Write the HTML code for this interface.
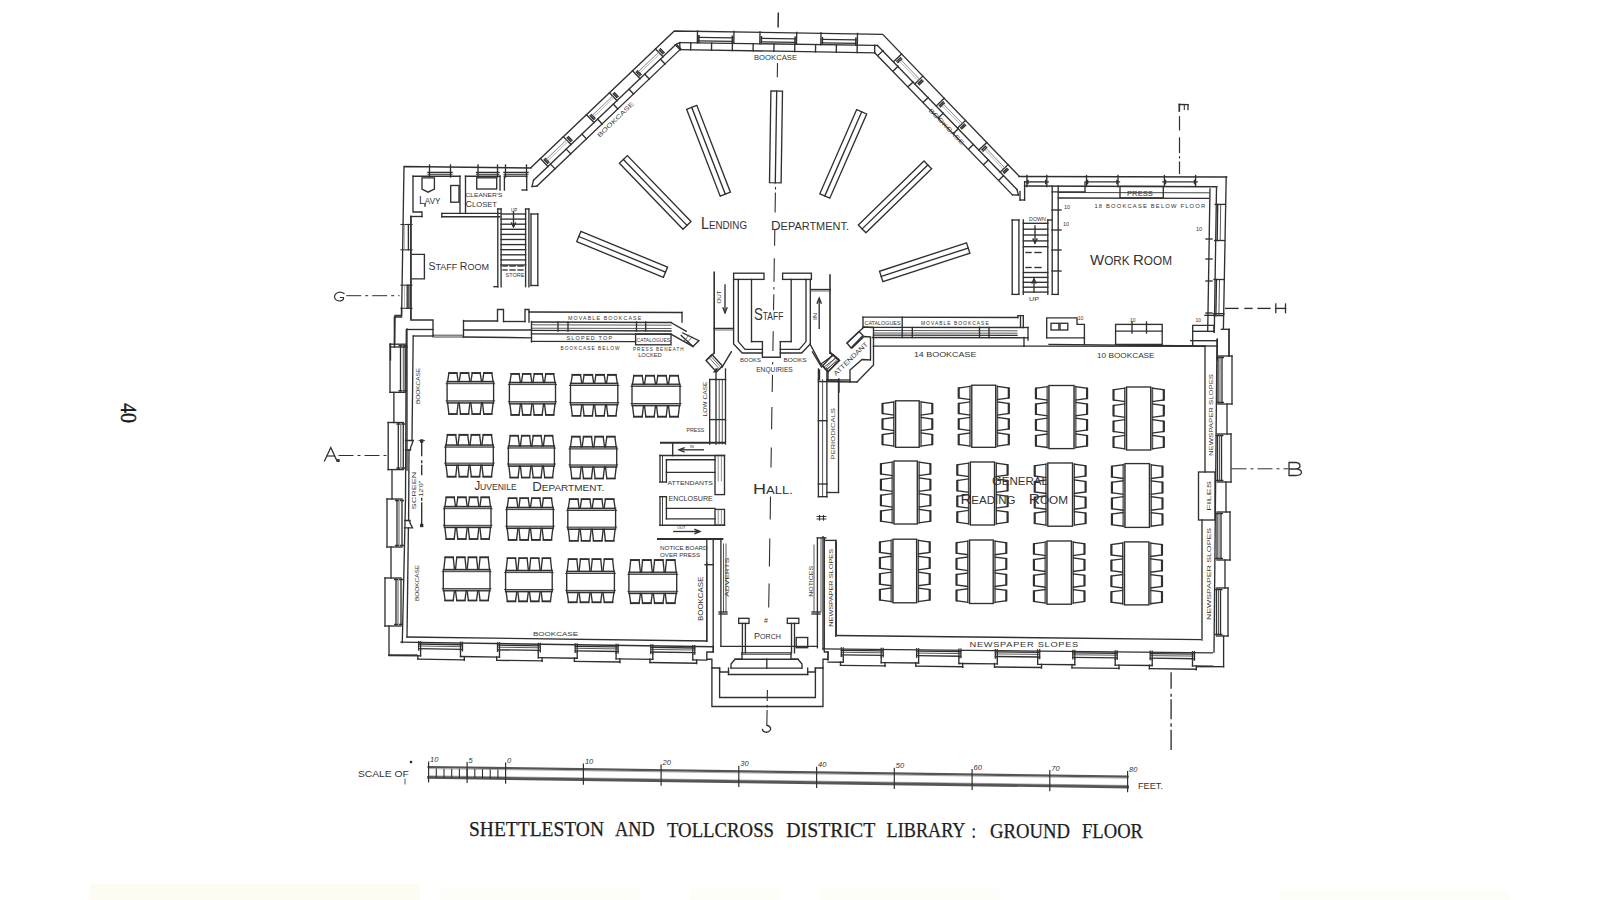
<!DOCTYPE html>
<html><head><meta charset="utf-8"><style>
html,body{margin:0;padding:0;background:#fff;}
body{width:1600px;height:900px;overflow:hidden;position:relative;}
svg{position:absolute;left:0;top:0;}
</style></head><body>
<svg width="1600" height="900" viewBox="0 0 1600 900">
<defs><linearGradient id="yb" x1="0" y1="0" x2="0" y2="1"><stop offset="0" stop-color="#fffef6" stop-opacity="0"/><stop offset="1" stop-color="#fbf7dc"/></linearGradient></defs>
<rect x="0" y="0" width="1600" height="900" fill="#ffffff"/>
<g fill="none" stroke="#303030" stroke-width="1.35" stroke-linecap="square">
<polyline points="531,167.5 674.3,31 882.7,34.3 1019,176"/>
<line x1="533.5" y1="180.2" x2="675.3" y2="44.9"/>
<line x1="537" y1="186.1" x2="680" y2="49.6"/>
<line x1="533.5" y1="180.2" x2="532" y2="186.5"/>
<line x1="537" y1="186.1" x2="532" y2="186.5"/>
<polygon points="679.7,42.6 675.3,44.9 680,49.6"/>
<line x1="679.7" y1="42.6" x2="874.7" y2="45.4"/>
<line x1="680" y1="49.6" x2="874.7" y2="52.8"/>
<line x1="874.7" y1="45.4" x2="874.7" y2="52.8"/>
<line x1="877.5" y1="45.5" x2="1017" y2="189.6"/>
<line x1="874.7" y1="52.8" x2="1012.5" y2="194.9"/>
<line x1="1017" y1="189.6" x2="1018.5" y2="195"/>
<line x1="1012.5" y1="194.9" x2="1018.5" y2="195"/>
<line x1="874.7" y1="45.4" x2="877.5" y2="45.5"/>
<line x1="540.4" y1="158.5" x2="548" y2="166.5"/>
<line x1="544.3" y1="159.7" x2="547.7" y2="163.3" stroke-width="1.5"/>
<line x1="545.4" y1="158.6" x2="548.9" y2="162.2" stroke-width="1.5"/>
<line x1="563.4" y1="136.6" x2="571" y2="144.6"/>
<line x1="567.3" y1="137.8" x2="570.7" y2="141.4" stroke-width="1.5"/>
<line x1="568.5" y1="136.7" x2="571.9" y2="140.3" stroke-width="1.5"/>
<line x1="586.5" y1="114.7" x2="594.1" y2="122.6"/>
<line x1="590.3" y1="115.8" x2="593.8" y2="119.4" stroke-width="1.5"/>
<line x1="591.5" y1="114.7" x2="594.9" y2="118.3" stroke-width="1.5"/>
<line x1="609.5" y1="92.7" x2="617.1" y2="100.7"/>
<line x1="613.4" y1="93.9" x2="616.8" y2="97.5" stroke-width="1.5"/>
<line x1="614.5" y1="92.8" x2="618" y2="96.4" stroke-width="1.5"/>
<line x1="632.5" y1="70.8" x2="640.1" y2="78.8"/>
<line x1="636.4" y1="72" x2="639.8" y2="75.6" stroke-width="1.5"/>
<line x1="637.5" y1="70.9" x2="641" y2="74.5" stroke-width="1.5"/>
<line x1="655.5" y1="48.9" x2="663.1" y2="56.8"/>
<line x1="659.4" y1="50" x2="662.9" y2="53.6" stroke-width="1.5"/>
<line x1="660.6" y1="48.9" x2="664" y2="52.5" stroke-width="1.5"/>
<line x1="546.5" y1="159.1" x2="566.6" y2="139.9" stroke-width="0.9" stroke="#777"/>
<line x1="547.9" y1="160.6" x2="568" y2="141.4" stroke-width="0.7" stroke="#999"/>
<line x1="592.5" y1="115.2" x2="612.7" y2="96.1" stroke-width="0.9" stroke="#777"/>
<line x1="593.9" y1="116.7" x2="614" y2="97.5" stroke-width="0.7" stroke="#999"/>
<line x1="638.6" y1="71.4" x2="658.7" y2="52.2" stroke-width="0.9" stroke="#777"/>
<line x1="640" y1="72.8" x2="660.1" y2="53.6" stroke-width="0.7" stroke="#999"/>
<line x1="550.5" y1="164.1" x2="555.1" y2="168.9"/>
<line x1="566.2" y1="149.1" x2="570.8" y2="153.9"/>
<line x1="582" y1="134.2" x2="586.5" y2="138.9"/>
<line x1="597.7" y1="119.2" x2="602.2" y2="124"/>
<line x1="613.4" y1="104.2" x2="617.9" y2="109"/>
<line x1="629.1" y1="89.3" x2="633.6" y2="94"/>
<line x1="644.8" y1="74.3" x2="649.4" y2="79.1"/>
<line x1="660.5" y1="59.3" x2="665.1" y2="64.1"/>
<line x1="676.2" y1="44.3" x2="680.8" y2="49.1"/>
<line x1="901.6" y1="54" x2="893.7" y2="61.6"/>
<line x1="900.5" y1="57.8" x2="896.9" y2="61.3" stroke-width="1.5"/>
<line x1="901.6" y1="59" x2="898" y2="62.5" stroke-width="1.5"/>
<line x1="922.9" y1="76.1" x2="915" y2="83.7"/>
<line x1="921.8" y1="80" x2="918.2" y2="83.4" stroke-width="1.5"/>
<line x1="922.9" y1="81.1" x2="919.3" y2="84.6" stroke-width="1.5"/>
<line x1="944.2" y1="98.2" x2="936.3" y2="105.9"/>
<line x1="943.1" y1="102.1" x2="939.5" y2="105.6" stroke-width="1.5"/>
<line x1="944.2" y1="103.2" x2="940.6" y2="106.7" stroke-width="1.5"/>
<line x1="965.5" y1="120.4" x2="957.5" y2="128"/>
<line x1="964.3" y1="124.2" x2="960.7" y2="127.7" stroke-width="1.5"/>
<line x1="965.4" y1="125.4" x2="961.8" y2="128.8" stroke-width="1.5"/>
<line x1="986.8" y1="142.5" x2="978.8" y2="150.1"/>
<line x1="985.6" y1="146.3" x2="982" y2="149.8" stroke-width="1.5"/>
<line x1="986.7" y1="147.5" x2="983.1" y2="151" stroke-width="1.5"/>
<line x1="1008" y1="164.6" x2="1000.1" y2="172.2"/>
<line x1="1006.9" y1="168.5" x2="1003.3" y2="171.9" stroke-width="1.5"/>
<line x1="1008" y1="169.6" x2="1004.4" y2="173.1" stroke-width="1.5"/>
<line x1="901.1" y1="60" x2="919.6" y2="79.3" stroke-width="0.9" stroke="#777"/>
<line x1="899.6" y1="61.4" x2="918.2" y2="80.7" stroke-width="0.7" stroke="#999"/>
<line x1="943.6" y1="104.3" x2="962.2" y2="123.5" stroke-width="0.9" stroke="#777"/>
<line x1="942.2" y1="105.7" x2="960.7" y2="124.9" stroke-width="0.7" stroke="#999"/>
<line x1="986.2" y1="148.5" x2="1004.7" y2="167.8" stroke-width="0.9" stroke="#777"/>
<line x1="984.8" y1="149.9" x2="1003.3" y2="169.2" stroke-width="0.7" stroke="#999"/>
<line x1="883.1" y1="50.6" x2="878.3" y2="55.1"/>
<line x1="898.1" y1="66.2" x2="893.4" y2="70.8"/>
<line x1="913.2" y1="81.9" x2="908.4" y2="86.4"/>
<line x1="928.2" y1="97.5" x2="923.5" y2="102.1"/>
<line x1="943.3" y1="113.1" x2="938.5" y2="117.7"/>
<line x1="958.3" y1="128.8" x2="953.6" y2="133.3"/>
<line x1="973.4" y1="144.4" x2="968.6" y2="149"/>
<line x1="988.4" y1="160" x2="983.6" y2="164.6"/>
<line x1="1003.4" y1="175.7" x2="998.7" y2="180.3"/>
<line x1="697.5" y1="30.9" x2="697.3" y2="42.9"/>
<line x1="734" y1="31.4" x2="733.8" y2="43.4"/>
<line x1="698.9" y1="37.4" x2="732.4" y2="37.9"/>
<line x1="698.8" y1="40.9" x2="732.3" y2="41.4"/>
<line x1="698.9" y1="35.9" x2="698.8" y2="42.4" stroke-width="1.6"/>
<line x1="732.4" y1="36.4" x2="732.3" y2="42.9" stroke-width="1.6"/>
<line x1="760" y1="31.9" x2="759.8" y2="43.9"/>
<line x1="796.7" y1="32.4" x2="796.5" y2="44.4"/>
<line x1="761.4" y1="38.4" x2="795.1" y2="38.9"/>
<line x1="761.3" y1="41.9" x2="795" y2="42.4"/>
<line x1="761.4" y1="36.9" x2="761.3" y2="43.4" stroke-width="1.6"/>
<line x1="795.1" y1="37.4" x2="795" y2="43.9" stroke-width="1.6"/>
<line x1="821" y1="32.8" x2="820.8" y2="44.8"/>
<line x1="857.5" y1="33.4" x2="857.3" y2="45.4"/>
<line x1="822.4" y1="39.3" x2="855.9" y2="39.9"/>
<line x1="822.3" y1="42.8" x2="855.8" y2="43.4"/>
<line x1="822.4" y1="37.8" x2="822.3" y2="44.3" stroke-width="1.6"/>
<line x1="855.9" y1="38.4" x2="855.8" y2="44.9" stroke-width="1.6"/>
<line x1="690.8" y1="42.9" x2="690.7" y2="49.9"/>
<line x1="711.6" y1="43.2" x2="711.5" y2="50.2"/>
<line x1="732.4" y1="43.5" x2="732.3" y2="50.5"/>
<line x1="753.2" y1="43.9" x2="753.1" y2="50.9"/>
<line x1="774" y1="44.2" x2="773.9" y2="51.2"/>
<line x1="794.8" y1="44.5" x2="794.7" y2="51.5"/>
<line x1="815.6" y1="44.8" x2="815.5" y2="51.8"/>
<line x1="836.4" y1="45.2" x2="836.3" y2="52.2"/>
<line x1="857.2" y1="45.5" x2="857.1" y2="52.5"/>
<text x="754" y="59.5" font-size="6.5" font-family="Liberation Sans" text-anchor="start" fill="#333" stroke="none" textLength="43" lengthAdjust="spacingAndGlyphs">BOOKCASE</text>
<text x="617" y="121" font-size="6" font-family="Liberation Sans" text-anchor="middle" fill="#333" stroke="none" transform="rotate(-44 617 121)" textLength="48" lengthAdjust="spacingAndGlyphs">BOOKCASE</text>
<text x="945" y="128" font-size="6" font-family="Liberation Sans" text-anchor="middle" fill="#333" stroke="none" transform="rotate(46 945 128)" textLength="48" lengthAdjust="spacingAndGlyphs">BOOKCASE</text>
<polygon points="576.7,241.6 663.4,277.3 667.6,267.1 580.9,231.4"/>
<line x1="578.8" y1="236.5" x2="665.5" y2="272.2"/>
<polygon points="619.4,163.2 683,229.2 691,221.6 627.4,155.6"/>
<line x1="623.4" y1="159.4" x2="687" y2="225.4"/>
<polygon points="686.6,109.3 720.2,196.2 730.4,192.2 696.8,105.3"/>
<line x1="691.7" y1="107.3" x2="725.3" y2="194.2"/>
<polygon points="770.9,91 769.5,182.7 781.1,182.9 782.5,91.2"/>
<line x1="776.7" y1="91.1" x2="775.3" y2="182.8"/>
<polygon points="856.7,109.6 819.8,193.8 829.8,198.2 866.7,114"/>
<line x1="861.7" y1="111.8" x2="824.8" y2="196"/>
<polygon points="924,161 858.3,225 865.9,232.8 931.6,168.8"/>
<line x1="927.8" y1="164.9" x2="862.1" y2="228.9"/>
<polygon points="966.5,242.8 879.5,271.3 882.9,281.7 969.9,253.2"/>
<line x1="968.2" y1="248" x2="881.2" y2="276.5"/>
<text x="701" y="228.8" font-family="Liberation Sans" fill="#333" stroke="none" textLength="46" lengthAdjust="spacingAndGlyphs"><tspan font-size="16">L</tspan><tspan font-size="11">ENDING</tspan></text>
<text x="771" y="229.5" font-family="Liberation Sans" fill="#333" stroke="none" textLength="78" lengthAdjust="spacingAndGlyphs"><tspan font-size="12.5">D</tspan><tspan font-size="10.3">EPARTMENT.</tspan></text>
<polyline points="531,168 404,166.5 401.6,315.5 395,315.5 394.5,345"/>
<line x1="429.5" y1="165" x2="429.5" y2="177"/>
<line x1="450.5" y1="165" x2="450.5" y2="177"/>
<line x1="428" y1="172.4" x2="452" y2="172.4"/>
<line x1="428" y1="174.3" x2="452" y2="174.3" stroke-width="1"/>
<line x1="478" y1="165" x2="478" y2="177"/>
<line x1="497.5" y1="165" x2="497.5" y2="177"/>
<line x1="476.5" y1="172.4" x2="499" y2="172.4"/>
<line x1="476.5" y1="174.3" x2="499" y2="174.3" stroke-width="1"/>
<line x1="505.5" y1="165" x2="505.5" y2="177"/>
<line x1="526.5" y1="165" x2="526.5" y2="177"/>
<line x1="504" y1="172.4" x2="528" y2="172.4"/>
<line x1="504" y1="174.3" x2="528" y2="174.3" stroke-width="1"/>
<line x1="413" y1="176.2" x2="460" y2="176.2"/>
<line x1="465.5" y1="176.2" x2="500" y2="176.2"/>
<line x1="504.4" y1="176.2" x2="526.7" y2="176.2"/>
<line x1="526.7" y1="176.2" x2="526.7" y2="190"/>
<line x1="522" y1="190" x2="526.7" y2="190"/>
<line x1="500" y1="176.2" x2="500" y2="190"/>
<line x1="504.4" y1="176.2" x2="504.4" y2="190"/>
<polyline points="413,176.2 413,212 422,212 422,216.5"/>
<line x1="411" y1="216.5" x2="411" y2="319"/>
<line x1="411" y1="216.5" x2="422" y2="216.5"/>
<line x1="401" y1="224.5" x2="412" y2="224.5" stroke-width="1.1"/>
<line x1="401" y1="249.8" x2="412" y2="249.8" stroke-width="1.1"/>
<line x1="408.4" y1="224.5" x2="408.4" y2="249.8"/>
<line x1="404.5" y1="224.5" x2="404.5" y2="249.8" stroke-width="0.6" stroke="#888"/>
<line x1="401" y1="285.2" x2="412" y2="285.2" stroke-width="1.1"/>
<line x1="401" y1="308.3" x2="412" y2="308.3" stroke-width="1.1"/>
<line x1="407.2" y1="285.2" x2="407.2" y2="308.3"/>
<line x1="408.9" y1="285.2" x2="408.9" y2="308.3"/>
<line x1="404.5" y1="285.2" x2="404.5" y2="308.3" stroke-width="0.6" stroke="#888"/>
<line x1="460" y1="176.2" x2="460" y2="213.3"/>
<line x1="465.5" y1="176.2" x2="465.5" y2="213.3"/>
<line x1="441.8" y1="213.3" x2="500" y2="213.3"/>
<line x1="441.8" y1="216.7" x2="500" y2="216.7"/>
<line x1="441.8" y1="213.3" x2="441.8" y2="216.7"/>
<polygon points="422,177.8 422,189 428,192.2 434.4,189 434.4,177.8"/>
<rect x="450.7" y="185.5" width="8.3" height="16.7"/>
<rect x="476.7" y="177.8" width="20" height="11.2"/>
<line x1="425" y1="204" x2="425" y2="206"/>
<line x1="497.8" y1="209" x2="497.8" y2="286.7"/>
<line x1="501.1" y1="209" x2="501.1" y2="286.7"/>
<line x1="525.6" y1="209" x2="525.6" y2="286.7"/>
<line x1="528.9" y1="209" x2="528.9" y2="286.7"/>
<line x1="497.8" y1="209" x2="501.1" y2="209"/>
<line x1="525.6" y1="209" x2="528.9" y2="209"/>
<line x1="501.1" y1="214" x2="525.6" y2="214"/>
<line x1="501.1" y1="219.1" x2="525.6" y2="219.1"/>
<line x1="501.1" y1="224.2" x2="525.6" y2="224.2"/>
<line x1="501.1" y1="229.3" x2="525.6" y2="229.3"/>
<line x1="501.1" y1="234.4" x2="525.6" y2="234.4"/>
<line x1="501.1" y1="239.5" x2="525.6" y2="239.5"/>
<line x1="501.1" y1="244.6" x2="525.6" y2="244.6"/>
<line x1="501.1" y1="249.7" x2="525.6" y2="249.7"/>
<line x1="501.1" y1="254.8" x2="525.6" y2="254.8"/>
<line x1="501.1" y1="259.9" x2="525.6" y2="259.9"/>
<line x1="501.1" y1="265" x2="525.6" y2="265"/>
<line x1="513.5" y1="212" x2="513.5" y2="226"/>
<polyline points="511.5,223 513.5,227 515.5,223"/>
<line x1="503" y1="266" x2="507" y2="266"/>
<line x1="510" y1="266" x2="515" y2="266"/>
<line x1="518" y1="266" x2="523" y2="266"/>
<line x1="503" y1="270" x2="507" y2="270"/>
<line x1="510" y1="270" x2="515" y2="270"/>
<line x1="518" y1="270" x2="523" y2="270"/>
<polyline points="497.8,286.7 494,286.7"/>
<line x1="531" y1="214" x2="531" y2="285.5"/>
<line x1="537.8" y1="214" x2="537.8" y2="285.5"/>
<line x1="531" y1="214" x2="537.8" y2="214"/>
<line x1="531" y1="285.5" x2="537.8" y2="285.5"/>
<polyline points="412.2,254.4 424.4,254.4 424.4,278.9 412.2,278.9"/>
<text x="419" y="203.5" font-family="Liberation Sans" fill="#333" stroke="none" textLength="21.5" lengthAdjust="spacingAndGlyphs"><tspan font-size="11">L</tspan><tspan font-size="8.5">AVY</tspan></text>
<text x="465.5" y="196.7" font-size="5.8" font-family="Liberation Sans" text-anchor="start" fill="#333" stroke="none" textLength="37" lengthAdjust="spacingAndGlyphs">CLEANER'S</text>
<text x="465.5" y="206.9" font-family="Liberation Sans" fill="#333" stroke="none" textLength="31.5" lengthAdjust="spacingAndGlyphs"><tspan font-size="9.5">C</tspan><tspan font-size="8">LOSET</tspan></text>
<text x="428.4" y="270.2" font-family="Liberation Sans" fill="#333" stroke="none" textLength="60.5" lengthAdjust="spacingAndGlyphs"><tspan font-size="10.5">S</tspan><tspan font-size="9">TAFF</tspan><tspan font-size="9"> </tspan><tspan font-size="10.5">R</tspan><tspan font-size="9">OOM</tspan></text>
<text x="511" y="212" font-size="4.5" font-family="Liberation Sans" text-anchor="start" fill="#333" stroke="none">UP</text>
<text x="505.6" y="276.7" font-size="4.5" font-family="Liberation Sans" text-anchor="start" fill="#333" stroke="none" textLength="18.8" lengthAdjust="spacingAndGlyphs">STORE</text>
<polyline points="410.8,216.5 410.8,320 433,320 433,336"/>
<polyline points="401.5,308 401.5,317 394.5,317 394.5,347"/>
<line x1="407" y1="329.5" x2="433" y2="329.5"/>
<line x1="407" y1="329" x2="407" y2="470"/>
<line x1="413.5" y1="336" x2="433" y2="336"/>
<line x1="433" y1="335.2" x2="463.5" y2="335.2" stroke-width="0.9"/>
<line x1="433" y1="337" x2="463.5" y2="337" stroke-width="0.9"/>
<line x1="463.5" y1="337" x2="531.5" y2="337.8"/>
<line x1="413.2" y1="336" x2="412" y2="440.5"/>
<polyline points="463.5,320.5 463.5,337"/>
<line x1="463.5" y1="321" x2="497.5" y2="321"/>
<polyline points="497.5,321 497.5,309.5 503.5,309.5 503.5,321.5"/>
<line x1="503.5" y1="321.5" x2="525" y2="321.5"/>
<polyline points="525,321.5 525,309.5 529,309.5 529,322"/>
<line x1="463.5" y1="330" x2="531.5" y2="330"/>
<line x1="531.5" y1="321.5" x2="531.5" y2="342"/>
<line x1="390.5" y1="344" x2="390.5" y2="360"/>
<line x1="390.5" y1="347" x2="407" y2="347"/>
<rect x="447.1" y="381.5" width="46.5" height="2.2" fill="#aaa" stroke="none"/>
<rect x="447.1" y="400.8" width="46.5" height="2.2" fill="#aaa" stroke="none"/>
<rect x="447.1" y="381.5" width="46.5" height="21.5"/>
<line x1="446.1" y1="383.7" x2="494.6" y2="383.7" stroke-width="0.9"/>
<line x1="446.1" y1="400.8" x2="494.6" y2="400.8" stroke-width="0.9"/>
<polyline points="447.6,381.5 448.9,373.2 456.9,373.2 458.2,381.5"/>
<line x1="448.9" y1="372.9" x2="456.9" y2="372.9" stroke-width="1.6"/>
<polyline points="447.6,403 448.9,413.8 456.9,413.8 458.2,403"/>
<line x1="448.9" y1="414.1" x2="456.9" y2="414.1" stroke-width="1.6"/>
<polyline points="459.2,381.5 460.5,373.2 468.6,373.2 469.9,381.5"/>
<line x1="460.5" y1="372.9" x2="468.6" y2="372.9" stroke-width="1.6"/>
<polyline points="459.2,403 460.5,413.8 468.6,413.8 469.9,403"/>
<line x1="460.5" y1="414.1" x2="468.6" y2="414.1" stroke-width="1.6"/>
<polyline points="470.9,381.5 472.2,373.2 480.2,373.2 481.5,381.5"/>
<line x1="472.2" y1="372.9" x2="480.2" y2="372.9" stroke-width="1.6"/>
<polyline points="470.9,403 472.2,413.8 480.2,413.8 481.5,403"/>
<line x1="472.2" y1="414.1" x2="480.2" y2="414.1" stroke-width="1.6"/>
<polyline points="482.5,381.5 483.8,373.2 491.8,373.2 493.1,381.5"/>
<line x1="483.8" y1="372.9" x2="491.8" y2="372.9" stroke-width="1.6"/>
<polyline points="482.5,403 483.8,413.8 491.8,413.8 493.1,403"/>
<line x1="483.8" y1="414.1" x2="491.8" y2="414.1" stroke-width="1.6"/>
<rect x="509.4" y="382.4" width="46.1" height="2.2" fill="#aaa" stroke="none"/>
<rect x="509.4" y="401.7" width="46.1" height="2.2" fill="#aaa" stroke="none"/>
<rect x="509.4" y="382.4" width="46.1" height="21.5"/>
<line x1="508.4" y1="384.6" x2="556.5" y2="384.6" stroke-width="0.9"/>
<line x1="508.4" y1="401.7" x2="556.5" y2="401.7" stroke-width="0.9"/>
<polyline points="509.9,382.4 511.2,374.1 519.1,374.1 520.4,382.4"/>
<line x1="511.2" y1="373.8" x2="519.1" y2="373.8" stroke-width="1.6"/>
<polyline points="509.9,403.9 511.2,414.7 519.1,414.7 520.4,403.9"/>
<line x1="511.2" y1="415" x2="519.1" y2="415" stroke-width="1.6"/>
<polyline points="521.4,382.4 522.7,374.1 530.6,374.1 531.9,382.4"/>
<line x1="522.7" y1="373.8" x2="530.6" y2="373.8" stroke-width="1.6"/>
<polyline points="521.4,403.9 522.7,414.7 530.6,414.7 531.9,403.9"/>
<line x1="522.7" y1="415" x2="530.6" y2="415" stroke-width="1.6"/>
<polyline points="533,382.4 534.2,374.1 542.2,374.1 543.5,382.4"/>
<line x1="534.2" y1="373.8" x2="542.2" y2="373.8" stroke-width="1.6"/>
<polyline points="533,403.9 534.2,414.7 542.2,414.7 543.5,403.9"/>
<line x1="534.2" y1="415" x2="542.2" y2="415" stroke-width="1.6"/>
<polyline points="544.5,382.4 545.8,374.1 553.7,374.1 555,382.4"/>
<line x1="545.8" y1="373.8" x2="553.7" y2="373.8" stroke-width="1.6"/>
<polyline points="544.5,403.9 545.8,414.7 553.7,414.7 555,403.9"/>
<line x1="545.8" y1="415" x2="553.7" y2="415" stroke-width="1.6"/>
<rect x="570.5" y="383.3" width="47.3" height="2.2" fill="#aaa" stroke="none"/>
<rect x="570.5" y="402.6" width="47.3" height="2.2" fill="#aaa" stroke="none"/>
<rect x="570.5" y="383.3" width="47.3" height="21.5"/>
<line x1="569.5" y1="385.5" x2="618.8" y2="385.5" stroke-width="0.9"/>
<line x1="569.5" y1="402.6" x2="618.8" y2="402.6" stroke-width="0.9"/>
<polyline points="571,383.3 572.3,375 580.5,375 581.8,383.3"/>
<line x1="572.3" y1="374.7" x2="580.5" y2="374.7" stroke-width="1.6"/>
<polyline points="571,404.8 572.3,415.6 580.5,415.6 581.8,404.8"/>
<line x1="572.3" y1="415.9" x2="580.5" y2="415.9" stroke-width="1.6"/>
<polyline points="582.8,383.3 584.1,375 592.4,375 593.7,383.3"/>
<line x1="584.1" y1="374.7" x2="592.4" y2="374.7" stroke-width="1.6"/>
<polyline points="582.8,404.8 584.1,415.6 592.4,415.6 593.7,404.8"/>
<line x1="584.1" y1="415.9" x2="592.4" y2="415.9" stroke-width="1.6"/>
<polyline points="594.6,383.3 595.9,375 604.2,375 605.5,383.3"/>
<line x1="595.9" y1="374.7" x2="604.2" y2="374.7" stroke-width="1.6"/>
<polyline points="594.6,404.8 595.9,415.6 604.2,415.6 605.5,404.8"/>
<line x1="595.9" y1="415.9" x2="604.2" y2="415.9" stroke-width="1.6"/>
<polyline points="606.5,383.3 607.8,375 616,375 617.3,383.3"/>
<line x1="607.8" y1="374.7" x2="616" y2="374.7" stroke-width="1.6"/>
<polyline points="606.5,404.8 607.8,415.6 616,415.6 617.3,404.8"/>
<line x1="607.8" y1="415.9" x2="616" y2="415.9" stroke-width="1.6"/>
<rect x="632" y="384.2" width="48" height="2.2" fill="#aaa" stroke="none"/>
<rect x="632" y="403.5" width="48" height="2.2" fill="#aaa" stroke="none"/>
<rect x="632" y="384.2" width="48" height="21.5"/>
<line x1="631" y1="386.4" x2="681" y2="386.4" stroke-width="0.9"/>
<line x1="631" y1="403.5" x2="681" y2="403.5" stroke-width="0.9"/>
<polyline points="632.5,384.2 633.8,375.9 642.2,375.9 643.5,384.2"/>
<line x1="633.8" y1="375.6" x2="642.2" y2="375.6" stroke-width="1.6"/>
<polyline points="632.5,405.7 633.8,416.5 642.2,416.5 643.5,405.7"/>
<line x1="633.8" y1="416.8" x2="642.2" y2="416.8" stroke-width="1.6"/>
<polyline points="644.5,384.2 645.8,375.9 654.2,375.9 655.5,384.2"/>
<line x1="645.8" y1="375.6" x2="654.2" y2="375.6" stroke-width="1.6"/>
<polyline points="644.5,405.7 645.8,416.5 654.2,416.5 655.5,405.7"/>
<line x1="645.8" y1="416.8" x2="654.2" y2="416.8" stroke-width="1.6"/>
<polyline points="656.5,384.2 657.8,375.9 666.2,375.9 667.5,384.2"/>
<line x1="657.8" y1="375.6" x2="666.2" y2="375.6" stroke-width="1.6"/>
<polyline points="656.5,405.7 657.8,416.5 666.2,416.5 667.5,405.7"/>
<line x1="657.8" y1="416.8" x2="666.2" y2="416.8" stroke-width="1.6"/>
<polyline points="668.5,384.2 669.8,375.9 678.2,375.9 679.5,384.2"/>
<line x1="669.8" y1="375.6" x2="678.2" y2="375.6" stroke-width="1.6"/>
<polyline points="668.5,405.7 669.8,416.5 678.2,416.5 679.5,405.7"/>
<line x1="669.8" y1="416.8" x2="678.2" y2="416.8" stroke-width="1.6"/>
<rect x="445.6" y="445" width="47.7" height="2.2" fill="#aaa" stroke="none"/>
<rect x="445.6" y="463.1" width="47.7" height="2.2" fill="#aaa" stroke="none"/>
<rect x="445.6" y="445" width="47.7" height="20.3"/>
<line x1="444.6" y1="447.2" x2="494.3" y2="447.2" stroke-width="0.9"/>
<line x1="444.6" y1="463.1" x2="494.3" y2="463.1" stroke-width="0.9"/>
<polyline points="446.1,445 447.4,435 455.7,435 457,445"/>
<line x1="447.4" y1="434.7" x2="455.7" y2="434.7" stroke-width="1.6"/>
<polyline points="446.1,465.3 447.4,476.5 455.7,476.5 457,465.3"/>
<line x1="447.4" y1="476.8" x2="455.7" y2="476.8" stroke-width="1.6"/>
<polyline points="458,445 459.3,435 467.7,435 469,445"/>
<line x1="459.3" y1="434.7" x2="467.7" y2="434.7" stroke-width="1.6"/>
<polyline points="458,465.3 459.3,476.5 467.7,476.5 469,465.3"/>
<line x1="459.3" y1="476.8" x2="467.7" y2="476.8" stroke-width="1.6"/>
<polyline points="470,445 471.3,435 479.6,435 480.9,445"/>
<line x1="471.3" y1="434.7" x2="479.6" y2="434.7" stroke-width="1.6"/>
<polyline points="470,465.3 471.3,476.5 479.6,476.5 480.9,465.3"/>
<line x1="471.3" y1="476.8" x2="479.6" y2="476.8" stroke-width="1.6"/>
<polyline points="481.9,445 483.2,435 491.5,435 492.8,445"/>
<line x1="483.2" y1="434.7" x2="491.5" y2="434.7" stroke-width="1.6"/>
<polyline points="481.9,465.3 483.2,476.5 491.5,476.5 492.8,465.3"/>
<line x1="483.2" y1="476.8" x2="491.5" y2="476.8" stroke-width="1.6"/>
<rect x="508.4" y="445.9" width="46" height="2.2" fill="#aaa" stroke="none"/>
<rect x="508.4" y="464" width="46" height="2.2" fill="#aaa" stroke="none"/>
<rect x="508.4" y="445.9" width="46" height="20.3"/>
<line x1="507.4" y1="448.1" x2="555.4" y2="448.1" stroke-width="0.9"/>
<line x1="507.4" y1="464" x2="555.4" y2="464" stroke-width="0.9"/>
<polyline points="508.9,445.9 510.2,435.9 518.1,435.9 519.4,445.9"/>
<line x1="510.2" y1="435.6" x2="518.1" y2="435.6" stroke-width="1.6"/>
<polyline points="508.9,466.2 510.2,477.4 518.1,477.4 519.4,466.2"/>
<line x1="510.2" y1="477.7" x2="518.1" y2="477.7" stroke-width="1.6"/>
<polyline points="520.4,445.9 521.7,435.9 529.6,435.9 530.9,445.9"/>
<line x1="521.7" y1="435.6" x2="529.6" y2="435.6" stroke-width="1.6"/>
<polyline points="520.4,466.2 521.7,477.4 529.6,477.4 530.9,466.2"/>
<line x1="521.7" y1="477.7" x2="529.6" y2="477.7" stroke-width="1.6"/>
<polyline points="531.9,445.9 533.2,435.9 541.1,435.9 542.4,445.9"/>
<line x1="533.2" y1="435.6" x2="541.1" y2="435.6" stroke-width="1.6"/>
<polyline points="531.9,466.2 533.2,477.4 541.1,477.4 542.4,466.2"/>
<line x1="533.2" y1="477.7" x2="541.1" y2="477.7" stroke-width="1.6"/>
<polyline points="543.4,445.9 544.7,435.9 552.6,435.9 553.9,445.9"/>
<line x1="544.7" y1="435.6" x2="552.6" y2="435.6" stroke-width="1.6"/>
<polyline points="543.4,466.2 544.7,477.4 552.6,477.4 553.9,466.2"/>
<line x1="544.7" y1="477.7" x2="552.6" y2="477.7" stroke-width="1.6"/>
<rect x="570" y="446.8" width="46.7" height="2.2" fill="#aaa" stroke="none"/>
<rect x="570" y="464.9" width="46.7" height="2.2" fill="#aaa" stroke="none"/>
<rect x="570" y="446.8" width="46.7" height="20.3"/>
<line x1="569" y1="449" x2="617.7" y2="449" stroke-width="0.9"/>
<line x1="569" y1="464.9" x2="617.7" y2="464.9" stroke-width="0.9"/>
<polyline points="570.5,446.8 571.8,436.8 579.9,436.8 581.2,446.8"/>
<line x1="571.8" y1="436.5" x2="579.9" y2="436.5" stroke-width="1.6"/>
<polyline points="570.5,467.1 571.8,478.3 579.9,478.3 581.2,467.1"/>
<line x1="571.8" y1="478.6" x2="579.9" y2="478.6" stroke-width="1.6"/>
<polyline points="582.2,446.8 583.5,436.8 591.5,436.8 592.8,446.8"/>
<line x1="583.5" y1="436.5" x2="591.5" y2="436.5" stroke-width="1.6"/>
<polyline points="582.2,467.1 583.5,478.3 591.5,478.3 592.8,467.1"/>
<line x1="583.5" y1="478.6" x2="591.5" y2="478.6" stroke-width="1.6"/>
<polyline points="593.9,446.8 595.1,436.8 603.2,436.8 604.5,446.8"/>
<line x1="595.1" y1="436.5" x2="603.2" y2="436.5" stroke-width="1.6"/>
<polyline points="593.9,467.1 595.1,478.3 603.2,478.3 604.5,467.1"/>
<line x1="595.1" y1="478.6" x2="603.2" y2="478.6" stroke-width="1.6"/>
<polyline points="605.5,446.8 606.8,436.8 614.9,436.8 616.2,446.8"/>
<line x1="606.8" y1="436.5" x2="614.9" y2="436.5" stroke-width="1.6"/>
<polyline points="605.5,467.1 606.8,478.3 614.9,478.3 616.2,467.1"/>
<line x1="606.8" y1="478.6" x2="614.9" y2="478.6" stroke-width="1.6"/>
<rect x="444.4" y="506.5" width="46.6" height="2.2" fill="#aaa" stroke="none"/>
<rect x="444.4" y="525.3" width="46.6" height="2.2" fill="#aaa" stroke="none"/>
<rect x="444.4" y="506.5" width="46.6" height="21"/>
<line x1="443.4" y1="508.7" x2="492" y2="508.7" stroke-width="0.9"/>
<line x1="443.4" y1="525.3" x2="492" y2="525.3" stroke-width="0.9"/>
<polyline points="444.9,506.5 446.2,497.5 454.2,497.5 455.5,506.5"/>
<line x1="446.2" y1="497.2" x2="454.2" y2="497.2" stroke-width="1.6"/>
<polyline points="444.9,527.5 446.2,538.8 454.2,538.8 455.5,527.5"/>
<line x1="446.2" y1="539.1" x2="454.2" y2="539.1" stroke-width="1.6"/>
<polyline points="456.5,506.5 457.8,497.5 465.9,497.5 467.2,506.5"/>
<line x1="457.8" y1="497.2" x2="465.9" y2="497.2" stroke-width="1.6"/>
<polyline points="456.5,527.5 457.8,538.8 465.9,538.8 467.2,527.5"/>
<line x1="457.8" y1="539.1" x2="465.9" y2="539.1" stroke-width="1.6"/>
<polyline points="468.2,506.5 469.5,497.5 477.6,497.5 478.9,506.5"/>
<line x1="469.5" y1="497.2" x2="477.6" y2="497.2" stroke-width="1.6"/>
<polyline points="468.2,527.5 469.5,538.8 477.6,538.8 478.9,527.5"/>
<line x1="469.5" y1="539.1" x2="477.6" y2="539.1" stroke-width="1.6"/>
<polyline points="479.9,506.5 481.2,497.5 489.2,497.5 490.5,506.5"/>
<line x1="481.2" y1="497.2" x2="489.2" y2="497.2" stroke-width="1.6"/>
<polyline points="479.9,527.5 481.2,538.8 489.2,538.8 490.5,527.5"/>
<line x1="481.2" y1="539.1" x2="489.2" y2="539.1" stroke-width="1.6"/>
<rect x="506.7" y="507.4" width="46.6" height="2.2" fill="#aaa" stroke="none"/>
<rect x="506.7" y="526.2" width="46.6" height="2.2" fill="#aaa" stroke="none"/>
<rect x="506.7" y="507.4" width="46.6" height="21"/>
<line x1="505.7" y1="509.6" x2="554.3" y2="509.6" stroke-width="0.9"/>
<line x1="505.7" y1="526.2" x2="554.3" y2="526.2" stroke-width="0.9"/>
<polyline points="507.2,507.4 508.5,498.4 516.6,498.4 517.9,507.4"/>
<line x1="508.5" y1="498.1" x2="516.6" y2="498.1" stroke-width="1.6"/>
<polyline points="507.2,528.4 508.5,539.7 516.6,539.7 517.9,528.4"/>
<line x1="508.5" y1="540" x2="516.6" y2="540" stroke-width="1.6"/>
<polyline points="518.9,507.4 520.1,498.4 528.2,498.4 529.5,507.4"/>
<line x1="520.1" y1="498.1" x2="528.2" y2="498.1" stroke-width="1.6"/>
<polyline points="518.9,528.4 520.1,539.7 528.2,539.7 529.5,528.4"/>
<line x1="520.1" y1="540" x2="528.2" y2="540" stroke-width="1.6"/>
<polyline points="530.5,507.4 531.8,498.4 539.9,498.4 541.1,507.4"/>
<line x1="531.8" y1="498.1" x2="539.9" y2="498.1" stroke-width="1.6"/>
<polyline points="530.5,528.4 531.8,539.7 539.9,539.7 541.1,528.4"/>
<line x1="531.8" y1="540" x2="539.9" y2="540" stroke-width="1.6"/>
<polyline points="542.1,507.4 543.4,498.4 551.5,498.4 552.8,507.4"/>
<line x1="543.4" y1="498.1" x2="551.5" y2="498.1" stroke-width="1.6"/>
<polyline points="542.1,528.4 543.4,539.7 551.5,539.7 552.8,528.4"/>
<line x1="543.4" y1="540" x2="551.5" y2="540" stroke-width="1.6"/>
<rect x="567.8" y="508.3" width="47.8" height="2.2" fill="#aaa" stroke="none"/>
<rect x="567.8" y="527.1" width="47.8" height="2.2" fill="#aaa" stroke="none"/>
<rect x="567.8" y="508.3" width="47.8" height="21"/>
<line x1="566.8" y1="510.5" x2="616.6" y2="510.5" stroke-width="0.9"/>
<line x1="566.8" y1="527.1" x2="616.6" y2="527.1" stroke-width="0.9"/>
<polyline points="568.3,508.3 569.6,499.3 578,499.3 579.2,508.3"/>
<line x1="569.6" y1="499" x2="578" y2="499" stroke-width="1.6"/>
<polyline points="568.3,529.3 569.6,540.6 578,540.6 579.2,529.3"/>
<line x1="569.6" y1="540.9" x2="578" y2="540.9" stroke-width="1.6"/>
<polyline points="580.2,508.3 581.5,499.3 589.9,499.3 591.2,508.3"/>
<line x1="581.5" y1="499" x2="589.9" y2="499" stroke-width="1.6"/>
<polyline points="580.2,529.3 581.5,540.6 589.9,540.6 591.2,529.3"/>
<line x1="581.5" y1="540.9" x2="589.9" y2="540.9" stroke-width="1.6"/>
<polyline points="592.2,508.3 593.5,499.3 601.9,499.3 603.2,508.3"/>
<line x1="593.5" y1="499" x2="601.9" y2="499" stroke-width="1.6"/>
<polyline points="592.2,529.3 593.5,540.6 601.9,540.6 603.2,529.3"/>
<line x1="593.5" y1="540.9" x2="601.9" y2="540.9" stroke-width="1.6"/>
<polyline points="604.1,508.3 605.4,499.3 613.8,499.3 615.1,508.3"/>
<line x1="605.4" y1="499" x2="613.8" y2="499" stroke-width="1.6"/>
<polyline points="604.1,529.3 605.4,540.6 613.8,540.6 615.1,529.3"/>
<line x1="605.4" y1="540.9" x2="613.8" y2="540.9" stroke-width="1.6"/>
<rect x="443.3" y="569.5" width="46.7" height="2.2" fill="#aaa" stroke="none"/>
<rect x="443.3" y="588.6" width="46.7" height="2.2" fill="#aaa" stroke="none"/>
<rect x="443.3" y="569.5" width="46.7" height="21.3"/>
<line x1="442.3" y1="571.7" x2="491" y2="571.7" stroke-width="0.9"/>
<line x1="442.3" y1="588.6" x2="491" y2="588.6" stroke-width="0.9"/>
<polyline points="443.8,569.5 445.1,557.5 453.2,557.5 454.5,569.5"/>
<line x1="445.1" y1="557.2" x2="453.2" y2="557.2" stroke-width="1.6"/>
<polyline points="443.8,590.8 445.1,600.3 453.2,600.3 454.5,590.8"/>
<line x1="445.1" y1="600.6" x2="453.2" y2="600.6" stroke-width="1.6"/>
<polyline points="455.5,569.5 456.8,557.5 464.9,557.5 466.2,569.5"/>
<line x1="456.8" y1="557.2" x2="464.9" y2="557.2" stroke-width="1.6"/>
<polyline points="455.5,590.8 456.8,600.3 464.9,600.3 466.2,590.8"/>
<line x1="456.8" y1="600.6" x2="464.9" y2="600.6" stroke-width="1.6"/>
<polyline points="467.1,569.5 468.4,557.5 476.5,557.5 477.8,569.5"/>
<line x1="468.4" y1="557.2" x2="476.5" y2="557.2" stroke-width="1.6"/>
<polyline points="467.1,590.8 468.4,600.3 476.5,600.3 477.8,590.8"/>
<line x1="468.4" y1="600.6" x2="476.5" y2="600.6" stroke-width="1.6"/>
<polyline points="478.8,569.5 480.1,557.5 488.2,557.5 489.5,569.5"/>
<line x1="480.1" y1="557.2" x2="488.2" y2="557.2" stroke-width="1.6"/>
<polyline points="478.8,590.8 480.1,600.3 488.2,600.3 489.5,590.8"/>
<line x1="480.1" y1="600.6" x2="488.2" y2="600.6" stroke-width="1.6"/>
<rect x="505.6" y="570.4" width="46.6" height="2.2" fill="#aaa" stroke="none"/>
<rect x="505.6" y="589.5" width="46.6" height="2.2" fill="#aaa" stroke="none"/>
<rect x="505.6" y="570.4" width="46.6" height="21.3"/>
<line x1="504.6" y1="572.6" x2="553.2" y2="572.6" stroke-width="0.9"/>
<line x1="504.6" y1="589.5" x2="553.2" y2="589.5" stroke-width="0.9"/>
<polyline points="506.1,570.4 507.4,558.4 515.5,558.4 516.8,570.4"/>
<line x1="507.4" y1="558.1" x2="515.5" y2="558.1" stroke-width="1.6"/>
<polyline points="506.1,591.7 507.4,601.2 515.5,601.2 516.8,591.7"/>
<line x1="507.4" y1="601.5" x2="515.5" y2="601.5" stroke-width="1.6"/>
<polyline points="517.8,570.4 519,558.4 527.1,558.4 528.4,570.4"/>
<line x1="519" y1="558.1" x2="527.1" y2="558.1" stroke-width="1.6"/>
<polyline points="517.8,591.7 519,601.2 527.1,601.2 528.4,591.7"/>
<line x1="519" y1="601.5" x2="527.1" y2="601.5" stroke-width="1.6"/>
<polyline points="529.4,570.4 530.7,558.4 538.8,558.4 540.1,570.4"/>
<line x1="530.7" y1="558.1" x2="538.8" y2="558.1" stroke-width="1.6"/>
<polyline points="529.4,591.7 530.7,601.2 538.8,601.2 540.1,591.7"/>
<line x1="530.7" y1="601.5" x2="538.8" y2="601.5" stroke-width="1.6"/>
<polyline points="541.1,570.4 542.4,558.4 550.4,558.4 551.7,570.4"/>
<line x1="542.4" y1="558.1" x2="550.4" y2="558.1" stroke-width="1.6"/>
<polyline points="541.1,591.7 542.4,601.2 550.4,601.2 551.7,591.7"/>
<line x1="542.4" y1="601.5" x2="550.4" y2="601.5" stroke-width="1.6"/>
<rect x="566.7" y="571.3" width="47.7" height="2.2" fill="#aaa" stroke="none"/>
<rect x="566.7" y="590.4" width="47.7" height="2.2" fill="#aaa" stroke="none"/>
<rect x="566.7" y="571.3" width="47.7" height="21.3"/>
<line x1="565.7" y1="573.5" x2="615.4" y2="573.5" stroke-width="0.9"/>
<line x1="565.7" y1="590.4" x2="615.4" y2="590.4" stroke-width="0.9"/>
<polyline points="567.2,571.3 568.5,559.3 576.8,559.3 578.1,571.3"/>
<line x1="568.5" y1="559" x2="576.8" y2="559" stroke-width="1.6"/>
<polyline points="567.2,592.6 568.5,602.1 576.8,602.1 578.1,592.6"/>
<line x1="568.5" y1="602.4" x2="576.8" y2="602.4" stroke-width="1.6"/>
<polyline points="579.1,571.3 580.4,559.3 588.8,559.3 590,571.3"/>
<line x1="580.4" y1="559" x2="588.8" y2="559" stroke-width="1.6"/>
<polyline points="579.1,592.6 580.4,602.1 588.8,602.1 590,592.6"/>
<line x1="580.4" y1="602.4" x2="588.8" y2="602.4" stroke-width="1.6"/>
<polyline points="591,571.3 592.3,559.3 600.7,559.3 602,571.3"/>
<line x1="592.3" y1="559" x2="600.7" y2="559" stroke-width="1.6"/>
<polyline points="591,592.6 592.3,602.1 600.7,602.1 602,592.6"/>
<line x1="592.3" y1="602.4" x2="600.7" y2="602.4" stroke-width="1.6"/>
<polyline points="603,571.3 604.3,559.3 612.6,559.3 613.9,571.3"/>
<line x1="604.3" y1="559" x2="612.6" y2="559" stroke-width="1.6"/>
<polyline points="603,592.6 604.3,602.1 612.6,602.1 613.9,592.6"/>
<line x1="604.3" y1="602.4" x2="612.6" y2="602.4" stroke-width="1.6"/>
<rect x="628.9" y="572.2" width="47.8" height="2.2" fill="#aaa" stroke="none"/>
<rect x="628.9" y="591.3" width="47.8" height="2.2" fill="#aaa" stroke="none"/>
<rect x="628.9" y="572.2" width="47.8" height="21.3"/>
<line x1="627.9" y1="574.4" x2="677.7" y2="574.4" stroke-width="0.9"/>
<line x1="627.9" y1="591.3" x2="677.7" y2="591.3" stroke-width="0.9"/>
<polyline points="629.4,572.2 630.7,560.2 639.1,560.2 640.4,572.2"/>
<line x1="630.7" y1="559.9" x2="639.1" y2="559.9" stroke-width="1.6"/>
<polyline points="629.4,593.5 630.7,603 639.1,603 640.4,593.5"/>
<line x1="630.7" y1="603.3" x2="639.1" y2="603.3" stroke-width="1.6"/>
<polyline points="641.4,572.2 642.6,560.2 651,560.2 652.3,572.2"/>
<line x1="642.6" y1="559.9" x2="651" y2="559.9" stroke-width="1.6"/>
<polyline points="641.4,593.5 642.6,603 651,603 652.3,593.5"/>
<line x1="642.6" y1="603.3" x2="651" y2="603.3" stroke-width="1.6"/>
<polyline points="653.3,572.2 654.6,560.2 663,560.2 664.2,572.2"/>
<line x1="654.6" y1="559.9" x2="663" y2="559.9" stroke-width="1.6"/>
<polyline points="653.3,593.5 654.6,603 663,603 664.2,593.5"/>
<line x1="654.6" y1="603.3" x2="663" y2="603.3" stroke-width="1.6"/>
<polyline points="665.2,572.2 666.5,560.2 674.9,560.2 676.2,572.2"/>
<line x1="666.5" y1="559.9" x2="674.9" y2="559.9" stroke-width="1.6"/>
<polyline points="665.2,593.5 666.5,603 674.9,603 676.2,593.5"/>
<line x1="666.5" y1="603.3" x2="674.9" y2="603.3" stroke-width="1.6"/>
<text x="474.4" y="490" font-family="Liberation Sans" fill="#333" stroke="none" textLength="42.3" lengthAdjust="spacingAndGlyphs"><tspan font-size="12.4">J</tspan><tspan font-size="9.3">UVENILE</tspan></text>
<text x="532.2" y="490.5" font-family="Liberation Sans" fill="#333" stroke="none" textLength="72" lengthAdjust="spacingAndGlyphs"><tspan font-size="12.4">D</tspan><tspan font-size="9.3">EPARTMENT.</tspan></text>
<rect x="893.6" y="400.8" width="2" height="46.5" fill="#aaa" stroke="none"/>
<rect x="919.2" y="400.8" width="2" height="46.5" fill="#aaa" stroke="none"/>
<rect x="895.6" y="400.8" width="23.6" height="46.5"/>
<line x1="893.6" y1="401.8" x2="893.6" y2="446.3" stroke-width="0.9"/>
<line x1="921.2" y1="401.8" x2="921.2" y2="446.3" stroke-width="0.9"/>
<polyline points="893.6,402 882.1,403.6 882.1,413.5 893.6,415.1"/>
<line x1="882.8" y1="403.7" x2="882.8" y2="413.4" stroke-width="1.6"/>
<polyline points="921.2,402 932.7,403.6 932.7,413.5 921.2,415.1"/>
<line x1="932" y1="403.7" x2="932" y2="413.4" stroke-width="1.6"/>
<polyline points="893.6,417.5 882.1,419.1 882.1,429 893.6,430.6"/>
<line x1="882.8" y1="419.2" x2="882.8" y2="428.9" stroke-width="1.6"/>
<polyline points="921.2,417.5 932.7,419.1 932.7,429 921.2,430.6"/>
<line x1="932" y1="419.2" x2="932" y2="428.9" stroke-width="1.6"/>
<polyline points="893.6,433 882.1,434.6 882.1,444.5 893.6,446.1"/>
<line x1="882.8" y1="434.7" x2="882.8" y2="444.4" stroke-width="1.6"/>
<polyline points="921.2,433 932.7,434.6 932.7,444.5 921.2,446.1"/>
<line x1="932" y1="434.7" x2="932" y2="444.4" stroke-width="1.6"/>
<rect x="969.8" y="385.2" width="2" height="62.1" fill="#aaa" stroke="none"/>
<rect x="995.7" y="385.2" width="2" height="62.1" fill="#aaa" stroke="none"/>
<rect x="971.8" y="385.2" width="23.9" height="62.1"/>
<line x1="969.8" y1="386.2" x2="969.8" y2="446.3" stroke-width="0.9"/>
<line x1="997.7" y1="386.2" x2="997.7" y2="446.3" stroke-width="0.9"/>
<polyline points="969.8,386.4 958.3,388 958.3,397.9 969.8,399.5"/>
<line x1="959" y1="388.1" x2="959" y2="397.8" stroke-width="1.6"/>
<polyline points="997.7,386.4 1009.2,388 1009.2,397.9 997.7,399.5"/>
<line x1="1008.5" y1="388.1" x2="1008.5" y2="397.8" stroke-width="1.6"/>
<polyline points="969.8,401.9 958.3,403.5 958.3,413.4 969.8,415.1"/>
<line x1="959" y1="403.6" x2="959" y2="413.4" stroke-width="1.6"/>
<polyline points="997.7,401.9 1009.2,403.5 1009.2,413.4 997.7,415.1"/>
<line x1="1008.5" y1="403.6" x2="1008.5" y2="413.4" stroke-width="1.6"/>
<polyline points="969.8,417.4 958.3,419.1 958.3,429 969.8,430.6"/>
<line x1="959" y1="419.1" x2="959" y2="428.9" stroke-width="1.6"/>
<polyline points="997.7,417.4 1009.2,419.1 1009.2,429 997.7,430.6"/>
<line x1="1008.5" y1="419.1" x2="1008.5" y2="428.9" stroke-width="1.6"/>
<polyline points="969.8,433 958.3,434.6 958.3,444.5 969.8,446.1"/>
<line x1="959" y1="434.7" x2="959" y2="444.4" stroke-width="1.6"/>
<polyline points="997.7,433 1009.2,434.6 1009.2,444.5 997.7,446.1"/>
<line x1="1008.5" y1="434.7" x2="1008.5" y2="444.4" stroke-width="1.6"/>
<rect x="1047" y="385.5" width="2" height="63.1" fill="#aaa" stroke="none"/>
<rect x="1074" y="385.5" width="2" height="63.1" fill="#aaa" stroke="none"/>
<rect x="1049" y="385.5" width="25" height="63.1"/>
<line x1="1047" y1="386.5" x2="1047" y2="447.6" stroke-width="0.9"/>
<line x1="1076" y1="386.5" x2="1076" y2="447.6" stroke-width="0.9"/>
<polyline points="1047,386.7 1035.5,388.3 1035.5,398.5 1047,400.1"/>
<line x1="1036.2" y1="388.4" x2="1036.2" y2="398.4" stroke-width="1.6"/>
<polyline points="1076,386.7 1087.5,388.3 1087.5,398.5 1076,400.1"/>
<line x1="1086.8" y1="388.4" x2="1086.8" y2="398.4" stroke-width="1.6"/>
<polyline points="1047,402.5 1035.5,404.1 1035.5,414.2 1047,415.8"/>
<line x1="1036.2" y1="404.2" x2="1036.2" y2="414.1" stroke-width="1.6"/>
<polyline points="1076,402.5 1087.5,404.1 1087.5,414.2 1076,415.8"/>
<line x1="1086.8" y1="404.2" x2="1086.8" y2="414.1" stroke-width="1.6"/>
<polyline points="1047,418.2 1035.5,419.9 1035.5,430 1047,431.6"/>
<line x1="1036.2" y1="419.9" x2="1036.2" y2="429.9" stroke-width="1.6"/>
<polyline points="1076,418.2 1087.5,419.9 1087.5,430 1076,431.6"/>
<line x1="1086.8" y1="419.9" x2="1086.8" y2="429.9" stroke-width="1.6"/>
<polyline points="1047,434 1035.5,435.6 1035.5,445.8 1047,447.4"/>
<line x1="1036.2" y1="435.7" x2="1036.2" y2="445.7" stroke-width="1.6"/>
<polyline points="1076,434 1087.5,435.6 1087.5,445.8 1076,447.4"/>
<line x1="1086.8" y1="435.7" x2="1086.8" y2="445.7" stroke-width="1.6"/>
<rect x="1124.6" y="387" width="2" height="63" fill="#aaa" stroke="none"/>
<rect x="1150.7" y="387" width="2" height="63" fill="#aaa" stroke="none"/>
<rect x="1126.6" y="387" width="24.1" height="63"/>
<line x1="1124.6" y1="388" x2="1124.6" y2="449" stroke-width="0.9"/>
<line x1="1152.7" y1="388" x2="1152.7" y2="449" stroke-width="0.9"/>
<polyline points="1124.6,388.2 1113.1,389.8 1113.1,399.9 1124.6,401.6"/>
<line x1="1113.8" y1="389.9" x2="1113.8" y2="399.9" stroke-width="1.6"/>
<polyline points="1152.7,388.2 1164.2,389.8 1164.2,399.9 1152.7,401.6"/>
<line x1="1163.5" y1="389.9" x2="1163.5" y2="399.9" stroke-width="1.6"/>
<polyline points="1124.6,403.9 1113.1,405.6 1113.1,415.7 1124.6,417.3"/>
<line x1="1113.8" y1="405.6" x2="1113.8" y2="415.6" stroke-width="1.6"/>
<polyline points="1152.7,403.9 1164.2,405.6 1164.2,415.7 1152.7,417.3"/>
<line x1="1163.5" y1="405.6" x2="1163.5" y2="415.6" stroke-width="1.6"/>
<polyline points="1124.6,419.7 1113.1,421.3 1113.1,431.4 1124.6,433.1"/>
<line x1="1113.8" y1="421.4" x2="1113.8" y2="431.4" stroke-width="1.6"/>
<polyline points="1152.7,419.7 1164.2,421.3 1164.2,431.4 1152.7,433.1"/>
<line x1="1163.5" y1="421.4" x2="1163.5" y2="431.4" stroke-width="1.6"/>
<polyline points="1124.6,435.4 1113.1,437.1 1113.1,447.2 1124.6,448.8"/>
<line x1="1113.8" y1="437.1" x2="1113.8" y2="447.1" stroke-width="1.6"/>
<polyline points="1152.7,435.4 1164.2,437.1 1164.2,447.2 1152.7,448.8"/>
<line x1="1163.5" y1="437.1" x2="1163.5" y2="447.1" stroke-width="1.6"/>
<rect x="892" y="461" width="2" height="63" fill="#aaa" stroke="none"/>
<rect x="917.3" y="461" width="2" height="63" fill="#aaa" stroke="none"/>
<rect x="894" y="461" width="23.3" height="63"/>
<line x1="892" y1="462" x2="892" y2="523" stroke-width="0.9"/>
<line x1="919.3" y1="462" x2="919.3" y2="523" stroke-width="0.9"/>
<polyline points="892,462.2 880.5,463.8 880.5,473.9 892,475.6"/>
<line x1="881.2" y1="463.9" x2="881.2" y2="473.9" stroke-width="1.6"/>
<polyline points="919.3,462.2 930.8,463.8 930.8,473.9 919.3,475.6"/>
<line x1="930.1" y1="463.9" x2="930.1" y2="473.9" stroke-width="1.6"/>
<polyline points="892,477.9 880.5,479.6 880.5,489.7 892,491.3"/>
<line x1="881.2" y1="479.6" x2="881.2" y2="489.6" stroke-width="1.6"/>
<polyline points="919.3,477.9 930.8,479.6 930.8,489.7 919.3,491.3"/>
<line x1="930.1" y1="479.6" x2="930.1" y2="489.6" stroke-width="1.6"/>
<polyline points="892,493.7 880.5,495.3 880.5,505.4 892,507.1"/>
<line x1="881.2" y1="495.4" x2="881.2" y2="505.4" stroke-width="1.6"/>
<polyline points="919.3,493.7 930.8,495.3 930.8,505.4 919.3,507.1"/>
<line x1="930.1" y1="495.4" x2="930.1" y2="505.4" stroke-width="1.6"/>
<polyline points="892,509.4 880.5,511.1 880.5,521.2 892,522.8"/>
<line x1="881.2" y1="511.1" x2="881.2" y2="521.1" stroke-width="1.6"/>
<polyline points="919.3,509.4 930.8,511.1 930.8,521.2 919.3,522.8"/>
<line x1="930.1" y1="511.1" x2="930.1" y2="521.1" stroke-width="1.6"/>
<rect x="968.4" y="462" width="2" height="63" fill="#aaa" stroke="none"/>
<rect x="994.5" y="462" width="2" height="63" fill="#aaa" stroke="none"/>
<rect x="970.4" y="462" width="24.1" height="63"/>
<line x1="968.4" y1="463" x2="968.4" y2="524" stroke-width="0.9"/>
<line x1="996.5" y1="463" x2="996.5" y2="524" stroke-width="0.9"/>
<polyline points="968.4,463.2 956.9,464.8 956.9,474.9 968.4,476.6"/>
<line x1="957.6" y1="464.9" x2="957.6" y2="474.9" stroke-width="1.6"/>
<polyline points="996.5,463.2 1008,464.8 1008,474.9 996.5,476.6"/>
<line x1="1007.3" y1="464.9" x2="1007.3" y2="474.9" stroke-width="1.6"/>
<polyline points="968.4,478.9 956.9,480.6 956.9,490.7 968.4,492.3"/>
<line x1="957.6" y1="480.6" x2="957.6" y2="490.6" stroke-width="1.6"/>
<polyline points="996.5,478.9 1008,480.6 1008,490.7 996.5,492.3"/>
<line x1="1007.3" y1="480.6" x2="1007.3" y2="490.6" stroke-width="1.6"/>
<polyline points="968.4,494.7 956.9,496.3 956.9,506.4 968.4,508.1"/>
<line x1="957.6" y1="496.4" x2="957.6" y2="506.4" stroke-width="1.6"/>
<polyline points="996.5,494.7 1008,496.3 1008,506.4 996.5,508.1"/>
<line x1="1007.3" y1="496.4" x2="1007.3" y2="506.4" stroke-width="1.6"/>
<polyline points="968.4,510.4 956.9,512 956.9,522.2 968.4,523.8"/>
<line x1="957.6" y1="512.1" x2="957.6" y2="522.1" stroke-width="1.6"/>
<polyline points="996.5,510.4 1008,512 1008,522.2 996.5,523.8"/>
<line x1="1007.3" y1="512.1" x2="1007.3" y2="522.1" stroke-width="1.6"/>
<rect x="1045.8" y="463" width="2" height="63.2" fill="#aaa" stroke="none"/>
<rect x="1072.5" y="463" width="2" height="63.2" fill="#aaa" stroke="none"/>
<rect x="1047.8" y="463" width="24.7" height="63.2"/>
<line x1="1045.8" y1="464" x2="1045.8" y2="525.2" stroke-width="0.9"/>
<line x1="1074.5" y1="464" x2="1074.5" y2="525.2" stroke-width="0.9"/>
<polyline points="1045.8,464.2 1034.3,465.8 1034.3,476 1045.8,477.6"/>
<line x1="1035" y1="465.9" x2="1035" y2="475.9" stroke-width="1.6"/>
<polyline points="1074.5,464.2 1086,465.8 1086,476 1074.5,477.6"/>
<line x1="1085.3" y1="465.9" x2="1085.3" y2="475.9" stroke-width="1.6"/>
<polyline points="1045.8,480 1034.3,481.6 1034.3,491.8 1045.8,493.4"/>
<line x1="1035" y1="481.7" x2="1035" y2="491.7" stroke-width="1.6"/>
<polyline points="1074.5,480 1086,481.6 1086,491.8 1074.5,493.4"/>
<line x1="1085.3" y1="481.7" x2="1085.3" y2="491.7" stroke-width="1.6"/>
<polyline points="1045.8,495.8 1034.3,497.4 1034.3,507.6 1045.8,509.2"/>
<line x1="1035" y1="497.5" x2="1035" y2="507.5" stroke-width="1.6"/>
<polyline points="1074.5,495.8 1086,497.4 1086,507.6 1074.5,509.2"/>
<line x1="1085.3" y1="497.5" x2="1085.3" y2="507.5" stroke-width="1.6"/>
<polyline points="1045.8,511.6 1034.3,513.2 1034.3,523.4 1045.8,525"/>
<line x1="1035" y1="513.3" x2="1035" y2="523.3" stroke-width="1.6"/>
<polyline points="1074.5,511.6 1086,513.2 1086,523.4 1074.5,525"/>
<line x1="1085.3" y1="513.3" x2="1085.3" y2="523.3" stroke-width="1.6"/>
<rect x="1123" y="463.6" width="2" height="63.8" fill="#aaa" stroke="none"/>
<rect x="1149.4" y="463.6" width="2" height="63.8" fill="#aaa" stroke="none"/>
<rect x="1125" y="463.6" width="24.4" height="63.8"/>
<line x1="1123" y1="464.6" x2="1123" y2="526.4" stroke-width="0.9"/>
<line x1="1151.4" y1="464.6" x2="1151.4" y2="526.4" stroke-width="0.9"/>
<polyline points="1123,464.8 1111.5,466.4 1111.5,476.8 1123,478.4"/>
<line x1="1112.2" y1="466.5" x2="1112.2" y2="476.7" stroke-width="1.6"/>
<polyline points="1151.4,464.8 1162.9,466.4 1162.9,476.8 1151.4,478.4"/>
<line x1="1162.2" y1="466.5" x2="1162.2" y2="476.7" stroke-width="1.6"/>
<polyline points="1123,480.8 1111.5,482.4 1111.5,492.7 1123,494.3"/>
<line x1="1112.2" y1="482.4" x2="1112.2" y2="492.6" stroke-width="1.6"/>
<polyline points="1151.4,480.8 1162.9,482.4 1162.9,492.7 1151.4,494.3"/>
<line x1="1162.2" y1="482.4" x2="1162.2" y2="492.6" stroke-width="1.6"/>
<polyline points="1123,496.7 1111.5,498.3 1111.5,508.6 1123,510.2"/>
<line x1="1112.2" y1="498.4" x2="1112.2" y2="508.6" stroke-width="1.6"/>
<polyline points="1151.4,496.7 1162.9,498.3 1162.9,508.6 1151.4,510.2"/>
<line x1="1162.2" y1="498.4" x2="1162.2" y2="508.6" stroke-width="1.6"/>
<polyline points="1123,512.6 1111.5,514.2 1111.5,524.6 1123,526.2"/>
<line x1="1112.2" y1="514.4" x2="1112.2" y2="524.5" stroke-width="1.6"/>
<polyline points="1151.4,512.6 1162.9,514.2 1162.9,524.6 1151.4,526.2"/>
<line x1="1162.2" y1="514.4" x2="1162.2" y2="524.5" stroke-width="1.6"/>
<rect x="891" y="539.2" width="2" height="63.6" fill="#aaa" stroke="none"/>
<rect x="916.6" y="539.2" width="2" height="63.6" fill="#aaa" stroke="none"/>
<rect x="893" y="539.2" width="23.6" height="63.6"/>
<line x1="891" y1="540.2" x2="891" y2="601.8" stroke-width="0.9"/>
<line x1="918.6" y1="540.2" x2="918.6" y2="601.8" stroke-width="0.9"/>
<polyline points="891,540.4 879.5,542 879.5,552.3 891,553.9"/>
<line x1="880.2" y1="542.1" x2="880.2" y2="552.2" stroke-width="1.6"/>
<polyline points="918.6,540.4 930.1,542 930.1,552.3 918.6,553.9"/>
<line x1="929.4" y1="542.1" x2="929.4" y2="552.2" stroke-width="1.6"/>
<polyline points="891,556.3 879.5,557.9 879.5,568.2 891,569.8"/>
<line x1="880.2" y1="558" x2="880.2" y2="568.1" stroke-width="1.6"/>
<polyline points="918.6,556.3 930.1,557.9 930.1,568.2 918.6,569.8"/>
<line x1="929.4" y1="558" x2="929.4" y2="568.1" stroke-width="1.6"/>
<polyline points="891,572.2 879.5,573.8 879.5,584.1 891,585.7"/>
<line x1="880.2" y1="573.9" x2="880.2" y2="584" stroke-width="1.6"/>
<polyline points="918.6,572.2 930.1,573.8 930.1,584.1 918.6,585.7"/>
<line x1="929.4" y1="573.9" x2="929.4" y2="584" stroke-width="1.6"/>
<polyline points="891,588.1 879.5,589.7 879.5,600 891,601.6"/>
<line x1="880.2" y1="589.8" x2="880.2" y2="599.9" stroke-width="1.6"/>
<polyline points="918.6,588.1 930.1,589.7 930.1,600 918.6,601.6"/>
<line x1="929.4" y1="589.8" x2="929.4" y2="599.9" stroke-width="1.6"/>
<rect x="967.6" y="540" width="2" height="63.5" fill="#aaa" stroke="none"/>
<rect x="993.2" y="540" width="2" height="63.5" fill="#aaa" stroke="none"/>
<rect x="969.6" y="540" width="23.6" height="63.5"/>
<line x1="967.6" y1="541" x2="967.6" y2="602.5" stroke-width="0.9"/>
<line x1="995.2" y1="541" x2="995.2" y2="602.5" stroke-width="0.9"/>
<polyline points="967.6,541.2 956.1,542.8 956.1,553.1 967.6,554.7"/>
<line x1="956.8" y1="542.9" x2="956.8" y2="553" stroke-width="1.6"/>
<polyline points="995.2,541.2 1006.7,542.8 1006.7,553.1 995.2,554.7"/>
<line x1="1006" y1="542.9" x2="1006" y2="553" stroke-width="1.6"/>
<polyline points="967.6,557.1 956.1,558.7 956.1,569 967.6,570.5"/>
<line x1="956.8" y1="558.8" x2="956.8" y2="568.9" stroke-width="1.6"/>
<polyline points="995.2,557.1 1006.7,558.7 1006.7,569 995.2,570.5"/>
<line x1="1006" y1="558.8" x2="1006" y2="568.9" stroke-width="1.6"/>
<polyline points="967.6,573 956.1,574.5 956.1,584.8 967.6,586.4"/>
<line x1="956.8" y1="574.6" x2="956.8" y2="584.7" stroke-width="1.6"/>
<polyline points="995.2,573 1006.7,574.5 1006.7,584.8 995.2,586.4"/>
<line x1="1006" y1="574.6" x2="1006" y2="584.7" stroke-width="1.6"/>
<polyline points="967.6,588.8 956.1,590.4 956.1,600.7 967.6,602.3"/>
<line x1="956.8" y1="590.5" x2="956.8" y2="600.6" stroke-width="1.6"/>
<polyline points="995.2,588.8 1006.7,590.4 1006.7,600.7 995.2,602.3"/>
<line x1="1006" y1="590.5" x2="1006" y2="600.6" stroke-width="1.6"/>
<rect x="1045" y="541" width="2" height="63.2" fill="#aaa" stroke="none"/>
<rect x="1071.4" y="541" width="2" height="63.2" fill="#aaa" stroke="none"/>
<rect x="1047" y="541" width="24.4" height="63.2"/>
<line x1="1045" y1="542" x2="1045" y2="603.2" stroke-width="0.9"/>
<line x1="1073.4" y1="542" x2="1073.4" y2="603.2" stroke-width="0.9"/>
<polyline points="1045,542.2 1033.5,543.8 1033.5,554 1045,555.6"/>
<line x1="1034.2" y1="543.9" x2="1034.2" y2="553.9" stroke-width="1.6"/>
<polyline points="1073.4,542.2 1084.9,543.8 1084.9,554 1073.4,555.6"/>
<line x1="1084.2" y1="543.9" x2="1084.2" y2="553.9" stroke-width="1.6"/>
<polyline points="1045,558 1033.5,559.6 1033.5,569.8 1045,571.4"/>
<line x1="1034.2" y1="559.7" x2="1034.2" y2="569.7" stroke-width="1.6"/>
<polyline points="1073.4,558 1084.9,559.6 1084.9,569.8 1073.4,571.4"/>
<line x1="1084.2" y1="559.7" x2="1084.2" y2="569.7" stroke-width="1.6"/>
<polyline points="1045,573.8 1033.5,575.4 1033.5,585.6 1045,587.2"/>
<line x1="1034.2" y1="575.5" x2="1034.2" y2="585.5" stroke-width="1.6"/>
<polyline points="1073.4,573.8 1084.9,575.4 1084.9,585.6 1073.4,587.2"/>
<line x1="1084.2" y1="575.5" x2="1084.2" y2="585.5" stroke-width="1.6"/>
<polyline points="1045,589.6 1033.5,591.2 1033.5,601.4 1045,603"/>
<line x1="1034.2" y1="591.3" x2="1034.2" y2="601.3" stroke-width="1.6"/>
<polyline points="1073.4,589.6 1084.9,591.2 1084.9,601.4 1073.4,603"/>
<line x1="1084.2" y1="591.3" x2="1084.2" y2="601.3" stroke-width="1.6"/>
<rect x="1122.5" y="541.9" width="2" height="63" fill="#aaa" stroke="none"/>
<rect x="1148.9" y="541.9" width="2" height="63" fill="#aaa" stroke="none"/>
<rect x="1124.5" y="541.9" width="24.4" height="63"/>
<line x1="1122.5" y1="542.9" x2="1122.5" y2="603.9" stroke-width="0.9"/>
<line x1="1150.9" y1="542.9" x2="1150.9" y2="603.9" stroke-width="0.9"/>
<polyline points="1122.5,543.1 1111,544.7 1111,554.9 1122.5,556.4"/>
<line x1="1111.7" y1="544.8" x2="1111.7" y2="554.8" stroke-width="1.6"/>
<polyline points="1150.9,543.1 1162.4,544.7 1162.4,554.9 1150.9,556.4"/>
<line x1="1161.7" y1="544.8" x2="1161.7" y2="554.8" stroke-width="1.6"/>
<polyline points="1122.5,558.9 1111,560.4 1111,570.6 1122.5,572.2"/>
<line x1="1111.7" y1="560.5" x2="1111.7" y2="570.5" stroke-width="1.6"/>
<polyline points="1150.9,558.9 1162.4,560.4 1162.4,570.6 1150.9,572.2"/>
<line x1="1161.7" y1="560.5" x2="1161.7" y2="570.5" stroke-width="1.6"/>
<polyline points="1122.5,574.6 1111,576.2 1111,586.4 1122.5,587.9"/>
<line x1="1111.7" y1="576.3" x2="1111.7" y2="586.2" stroke-width="1.6"/>
<polyline points="1150.9,574.6 1162.4,576.2 1162.4,586.4 1150.9,587.9"/>
<line x1="1161.7" y1="576.3" x2="1161.7" y2="586.2" stroke-width="1.6"/>
<polyline points="1122.5,590.4 1111,591.9 1111,602.1 1122.5,603.7"/>
<line x1="1111.7" y1="592" x2="1111.7" y2="602" stroke-width="1.6"/>
<polyline points="1150.9,590.4 1162.4,591.9 1162.4,602.1 1150.9,603.7"/>
<line x1="1161.7" y1="592" x2="1161.7" y2="602" stroke-width="1.6"/>
<text x="992" y="484.5" font-family="Liberation Sans" fill="#333" stroke="none" textLength="56" lengthAdjust="spacingAndGlyphs"><tspan font-size="12">G</tspan><tspan font-size="11">ENERAL</tspan></text>
<text x="960.4" y="504" font-family="Liberation Sans" fill="#333" stroke="none" textLength="55" lengthAdjust="spacingAndGlyphs"><tspan font-size="14.5">R</tspan><tspan font-size="11">EADING</tspan></text>
<text x="1028.7" y="504" font-family="Liberation Sans" fill="#333" stroke="none" textLength="39.3" lengthAdjust="spacingAndGlyphs"><tspan font-size="14.5">R</tspan><tspan font-size="11">OOM</tspan></text>
<text x="753" y="494" font-family="Liberation Sans" fill="#333" stroke="none" textLength="40" lengthAdjust="spacingAndGlyphs"><tspan font-size="15.4">H</tspan><tspan font-size="11.2">ALL.</tspan></text>
<line x1="529" y1="312" x2="682" y2="312.5"/>
<line x1="682" y1="312.5" x2="682" y2="322"/>
<line x1="531.5" y1="322" x2="671" y2="322.5"/>
<line x1="531.5" y1="324.8" x2="671" y2="325.2" stroke-width="0.8"/>
<line x1="531.5" y1="328.2" x2="671" y2="328.5" stroke-width="0.8"/>
<line x1="531.5" y1="330.4" x2="671" y2="331"/>
<line x1="558" y1="322" x2="558" y2="331"/>
<line x1="568" y1="322" x2="568" y2="331"/>
<line x1="636.5" y1="322" x2="636.5" y2="331"/>
<line x1="645.7" y1="322" x2="645.7" y2="331"/>
<line x1="531.5" y1="333.8" x2="671" y2="334.2"/>
<line x1="531.5" y1="341.4" x2="635.6" y2="341.6"/>
<rect x="635.6" y="334" width="35.4" height="10.8"/>
<line x1="671" y1="322.5" x2="686.2" y2="331.3"/>
<line x1="671" y1="334.2" x2="693" y2="346.5"/>
<polyline points="682.9,333 698.9,340.6 693,346.5 681.2,335.5"/>
<line x1="689" y1="335" x2="684" y2="341" stroke-width="0.7"/>
<line x1="692" y1="337" x2="687" y2="343" stroke-width="0.7"/>
<text x="568" y="320" font-size="4.6" font-family="Liberation Sans" text-anchor="start" fill="#333" stroke="none" textLength="74.4" lengthAdjust="spacingAndGlyphs" letter-spacing="1">MOVABLE BOOKCASE</text>
<text x="566.4" y="339.5" font-size="4.6" font-family="Liberation Sans" text-anchor="start" fill="#333" stroke="none" textLength="47" lengthAdjust="spacingAndGlyphs" letter-spacing="1">SLOPED TOP</text>
<text x="560.5" y="350" font-size="4.6" font-family="Liberation Sans" text-anchor="start" fill="#333" stroke="none" textLength="60" lengthAdjust="spacingAndGlyphs" letter-spacing="1">BOOKCASE BELOW</text>
<text x="636.5" y="341.5" font-size="4.6" font-family="Liberation Sans" text-anchor="start" fill="#333" stroke="none" textLength="33.7" lengthAdjust="spacingAndGlyphs">CATALOGUES</text>
<text x="633" y="351.3" font-size="4.6" font-family="Liberation Sans" text-anchor="start" fill="#333" stroke="none" textLength="51.6" lengthAdjust="spacingAndGlyphs" letter-spacing="1">PRESS BENEATH</text>
<text x="638.2" y="356.6" font-size="4.6" font-family="Liberation Sans" text-anchor="start" fill="#333" stroke="none" textLength="23.6" lengthAdjust="spacingAndGlyphs">LOCKED</text>
<line x1="714.2" y1="272.4" x2="714.2" y2="353" stroke-width="1.6"/>
<line x1="830" y1="275" x2="830" y2="353" stroke-width="1.6"/>
<polyline points="733.6,279.4 733.6,344 742.2,353 762.4,353"/>
<polyline points="738.3,279.4 738.3,341.6 745,349.4 762.4,349.4"/>
<rect x="733.6" y="273.2" width="30.4" height="6.2"/>
<line x1="751.5" y1="279.4" x2="751.5" y2="341.6"/>
<line x1="751.5" y1="341.6" x2="762.4" y2="341.6"/>
<polyline points="810.3,279.4 810.3,344 801.7,353 780.3,353"/>
<polyline points="806,279.4 806,341.6 799.3,349.4 780.3,349.4"/>
<rect x="782.6" y="273.2" width="28.8" height="6.2"/>
<line x1="791.2" y1="279.4" x2="791.2" y2="341.6"/>
<line x1="791.2" y1="341.6" x2="780.3" y2="341.6"/>
<polyline points="762.4,341.6 762.4,357.2 780.3,357.2 780.3,341.6"/>
<line x1="714.2" y1="328.4" x2="732.9" y2="328.4"/>
<line x1="714.2" y1="330" x2="732.9" y2="330" stroke-width="0.7"/>
<line x1="811.4" y1="289.5" x2="830" y2="289.5"/>
<line x1="811.4" y1="291" x2="830" y2="291" stroke-width="0.7"/>
<line x1="725" y1="285" x2="725" y2="312"/>
<polyline points="723,308 725,313 727,308"/>
<line x1="819.2" y1="299" x2="819.2" y2="328.4"/>
<polyline points="817.2,303 819.2,298 821.2,303"/>
<text x="721" y="303.5" font-size="5" font-family="Liberation Sans" text-anchor="start" fill="#333" stroke="none" transform="rotate(-90 721 303.5)" textLength="13" lengthAdjust="spacingAndGlyphs">OUT</text>
<text x="817" y="320" font-size="5" font-family="Liberation Sans" text-anchor="start" fill="#333" stroke="none" transform="rotate(-90 817 320)" textLength="7" lengthAdjust="spacingAndGlyphs">IN</text>
<text x="753.9" y="320" font-family="Liberation Sans" fill="#333" stroke="none" textLength="29.5" lengthAdjust="spacingAndGlyphs"><tspan font-size="17">S</tspan><tspan font-size="11">TAFF</tspan></text>
<text x="739.9" y="362" font-size="5.5" font-family="Liberation Sans" text-anchor="start" fill="#333" stroke="none" textLength="21" lengthAdjust="spacingAndGlyphs">BOOKS</text>
<text x="783.4" y="362" font-size="5.5" font-family="Liberation Sans" text-anchor="start" fill="#333" stroke="none" textLength="23.3" lengthAdjust="spacingAndGlyphs">BOOKS</text>
<text x="756.2" y="372" font-size="6.5" font-family="Liberation Sans" text-anchor="start" fill="#333" stroke="none" textLength="36.6" lengthAdjust="spacingAndGlyphs">ENQUIRIES</text>
<line x1="714.2" y1="353" x2="707.2" y2="359.5"/>
<line x1="731.3" y1="351.8" x2="722" y2="367.3"/>
<polygon points="706,360.5 712,354.5 722.5,366 716.5,372"/>
<line x1="709" y1="357.5" x2="719.5" y2="369" stroke-width="0.7"/>
<line x1="710.7" y1="356" x2="721" y2="367.5" stroke-width="0.7"/>
<line x1="714" y1="372" x2="717.3" y2="369"/>
<line x1="830" y1="353" x2="838.6" y2="359.5"/>
<line x1="812.5" y1="352" x2="821.5" y2="367"/>
<polygon points="822.5,366 833,354.5 839,360.5 828,372"/>
<line x1="825" y1="369" x2="835.5" y2="357.5" stroke-width="0.7"/>
<line x1="826.8" y1="370.5" x2="837.3" y2="359" stroke-width="0.7"/>
<line x1="709.7" y1="379.5" x2="709.7" y2="444"/>
<line x1="716" y1="379.5" x2="716" y2="444"/>
<line x1="719.2" y1="379.5" x2="719.2" y2="444" stroke-width="0.8"/>
<line x1="722.3" y1="379.5" x2="722.3" y2="444" stroke-width="0.8"/>
<line x1="725.5" y1="379.5" x2="725.5" y2="444"/>
<line x1="716" y1="369" x2="716" y2="379.5"/>
<line x1="725.5" y1="369" x2="725.5" y2="379.5"/>
<line x1="709.7" y1="379.5" x2="725.5" y2="379.5"/>
<line x1="709.7" y1="419.6" x2="725.5" y2="419.6"/>
<text x="706.5" y="416.5" font-size="6" font-family="Liberation Sans" text-anchor="start" fill="#333" stroke="none" transform="rotate(-90 706.5 416.5)" textLength="35" lengthAdjust="spacingAndGlyphs">LOW CASE</text>
<text x="686.5" y="431.5" font-size="4.6" font-family="Liberation Sans" text-anchor="start" fill="#333" stroke="none" textLength="17.9" lengthAdjust="spacingAndGlyphs">PRESS</text>
<line x1="661" y1="442.8" x2="724.5" y2="442.8" stroke-width="2"/>
<line x1="672.7" y1="442.8" x2="672.7" y2="455.5"/>
<line x1="680" y1="449.8" x2="703.3" y2="449.8"/>
<polyline points="684,447.8 679,449.8 684,451.8"/>
<text x="690" y="448" font-size="4" font-family="Liberation Sans" text-anchor="start" fill="#333" stroke="none">IN</text>
<line x1="660" y1="455.5" x2="724.5" y2="455.5"/>
<line x1="660" y1="455.5" x2="660" y2="482"/>
<line x1="662.5" y1="455.5" x2="662.5" y2="482" stroke-width="0.9"/>
<line x1="666.4" y1="459.7" x2="715" y2="459.7"/>
<line x1="666.4" y1="472.4" x2="715" y2="472.4"/>
<line x1="666.4" y1="459.7" x2="666.4" y2="482"/>
<line x1="660" y1="482" x2="666.4" y2="482"/>
<rect x="715" y="455.5" width="9.5" height="39.1"/>
<line x1="718.2" y1="457" x2="718.2" y2="481" stroke-width="0.8" stroke="#777"/>
<line x1="721.4" y1="457" x2="721.4" y2="481" stroke-width="0.8" stroke="#777"/>
<text x="667.4" y="485" font-size="5.8" font-family="Liberation Sans" text-anchor="start" fill="#333" stroke="none" textLength="45.4" lengthAdjust="spacingAndGlyphs">ATTENDANTS</text>
<text x="668.5" y="501" font-size="7" font-family="Liberation Sans" text-anchor="start" fill="#333" stroke="none" textLength="44.3" lengthAdjust="spacingAndGlyphs">ENCLOSURE</text>
<line x1="660" y1="496.7" x2="666.4" y2="496.7"/>
<line x1="660" y1="496.7" x2="660" y2="525.2"/>
<line x1="662.5" y1="496.7" x2="662.5" y2="525.2" stroke-width="0.9"/>
<line x1="666.4" y1="496.7" x2="666.4" y2="518.9"/>
<line x1="666.4" y1="508.3" x2="715" y2="508.3"/>
<line x1="666.4" y1="518.9" x2="715" y2="518.9"/>
<line x1="660" y1="525.2" x2="724.5" y2="525.2"/>
<rect x="715" y="509.4" width="9.5" height="15.8"/>
<line x1="718.2" y1="510" x2="718.2" y2="525" stroke-width="0.8" stroke="#777"/>
<line x1="721.4" y1="510" x2="721.4" y2="525" stroke-width="0.8" stroke="#777"/>
<line x1="673.8" y1="531.5" x2="699.1" y2="531.5"/>
<polyline points="695,529.5 700,531.5 695,533.5"/>
<text x="677" y="529" font-size="4" font-family="Liberation Sans" text-anchor="start" fill="#333" stroke="none">OUT</text>
<line x1="658" y1="539" x2="722.3" y2="539" stroke-width="2"/>
<text x="660" y="549.5" font-size="4.8" font-family="Liberation Sans" text-anchor="start" fill="#333" stroke="none" textLength="47.6" lengthAdjust="spacingAndGlyphs">NOTICE BOARD</text>
<text x="660" y="556.5" font-size="4.8" font-family="Liberation Sans" text-anchor="start" fill="#333" stroke="none" textLength="40" lengthAdjust="spacingAndGlyphs">OVER PRESS</text>
<line x1="818.4" y1="379.5" x2="818.4" y2="496.7"/>
<line x1="822.6" y1="379.5" x2="822.6" y2="496.7" stroke-width="0.8"/>
<line x1="826.9" y1="379.5" x2="826.9" y2="496.7"/>
<line x1="838.5" y1="379.5" x2="838.5" y2="492.5"/>
<line x1="826.9" y1="492.5" x2="838.5" y2="492.5"/>
<line x1="818.4" y1="496.7" x2="826.9" y2="496.7"/>
<line x1="818.4" y1="420.7" x2="826.9" y2="420.7"/>
<line x1="818.4" y1="484" x2="826.9" y2="484"/>
<line x1="818.4" y1="369" x2="818.4" y2="379.5"/>
<line x1="826.9" y1="369" x2="826.9" y2="379.5"/>
<line x1="826.9" y1="380" x2="838.5" y2="380"/>
<text x="835.5" y="459.7" font-size="5.5" font-family="Liberation Sans" text-anchor="start" fill="#333" stroke="none" transform="rotate(-90 835.5 459.7)" textLength="51.7" lengthAdjust="spacingAndGlyphs">PERIODICALS</text>
<line x1="817" y1="516.5" x2="826" y2="516.5" stroke-width="0.9"/>
<line x1="817" y1="519" x2="826" y2="519" stroke-width="0.9"/>
<line x1="819.5" y1="515.5" x2="819.5" y2="520" stroke-width="1.2"/>
<line x1="823.5" y1="515.5" x2="823.5" y2="520" stroke-width="1.2"/>
<line x1="817.4" y1="537.9" x2="817.4" y2="647.7"/>
<line x1="821" y1="537.9" x2="821" y2="612" stroke-width="0.8"/>
<line x1="824.3" y1="537.9" x2="824.3" y2="647.7"/>
<line x1="814" y1="545" x2="814" y2="612" stroke-width="0.8"/>
<line x1="817.4" y1="537.9" x2="825.8" y2="537.9"/>
<line x1="835.8" y1="540.4" x2="835.8" y2="636.2"/>
<line x1="824.3" y1="540.4" x2="835.8" y2="540.4"/>
<text x="812.8" y="596.7" font-size="5" font-family="Liberation Sans" text-anchor="start" fill="#333" stroke="none" transform="rotate(-90 812.8 596.7)" textLength="30.7" lengthAdjust="spacingAndGlyphs">NOTICES</text>
<text x="833.5" y="626.7" font-size="6" font-family="Liberation Sans" text-anchor="start" fill="#333" stroke="none" transform="rotate(-90 833.5 626.7)" textLength="77.8" lengthAdjust="spacingAndGlyphs">NEWSPAPER SLOPES</text>
<line x1="713.2" y1="539.2" x2="713.2" y2="646.4"/>
<line x1="720.9" y1="539.2" x2="720.9" y2="646.4"/>
<line x1="723.5" y1="544" x2="723.5" y2="612" stroke-width="0.8"/>
<line x1="726" y1="544" x2="726" y2="612" stroke-width="0.8"/>
<line x1="706.8" y1="539" x2="706.8" y2="641.3"/>
<line x1="705" y1="564.7" x2="713.2" y2="564.7"/>
<text x="702.8" y="621" font-size="6.5" font-family="Liberation Sans" text-anchor="start" fill="#333" stroke="none" transform="rotate(-90 702.8 621)" textLength="44.3" lengthAdjust="spacingAndGlyphs">BOOKCASE</text>
<text x="729" y="596.7" font-size="4.8" font-family="Liberation Sans" text-anchor="start" fill="#333" stroke="none" transform="rotate(-90 729 596.7)" textLength="38.9" lengthAdjust="spacingAndGlyphs">ADVERTS</text>
<line x1="719" y1="612" x2="727" y2="612"/>
<line x1="719" y1="614" x2="727" y2="614"/>
<line x1="812" y1="612" x2="820" y2="612"/>
<line x1="812" y1="614" x2="820" y2="614"/>
<line x1="720.9" y1="646.4" x2="816.7" y2="646.4"/>
<rect x="738.7" y="618.3" width="10.3" height="5.1"/>
<line x1="742.4" y1="623.4" x2="742.4" y2="652.8"/>
<line x1="745.4" y1="623.4" x2="745.4" y2="652.8"/>
<rect x="787.3" y="618.3" width="11.5" height="5.1"/>
<line x1="791.5" y1="623.4" x2="791.5" y2="652.8"/>
<line x1="794.5" y1="623.4" x2="794.5" y2="652.8"/>
<text x="764" y="623" font-size="7" font-family="Liberation Sans" text-anchor="start" fill="#333" stroke="none">#</text>
<text x="754" y="639" font-family="Liberation Sans" fill="#333" stroke="none" textLength="27" lengthAdjust="spacingAndGlyphs"><tspan font-size="9.5">P</tspan><tspan font-size="7.5">ORCH</tspan></text>
<rect x="796.2" y="637.5" width="11.5" height="10.2"/>
<line x1="742" y1="652.8" x2="791" y2="652.8"/>
<line x1="742" y1="654.5" x2="791" y2="654.5" stroke-width="0.7"/>
<polyline points="742,652.8 742,659.2 735,659.2 731,664 731,668.1"/>
<polyline points="791,652.8 791,659.2 798,659.2 802,664 802,668.1"/>
<line x1="735" y1="659.2" x2="798" y2="659.2"/>
<line x1="731" y1="668.1" x2="802" y2="668.1"/>
<line x1="728.5" y1="674.5" x2="807.7" y2="674.5"/>
<line x1="728.5" y1="668.1" x2="728.5" y2="674.5"/>
<line x1="807.7" y1="668.1" x2="807.7" y2="674.5"/>
<line x1="766.8" y1="659.2" x2="766.8" y2="668"/>
<polyline points="711.9,668 711.9,706.5 823,706.5 823,668"/>
<polyline points="719.6,668 719.6,697.5 815.4,697.5 815.4,668"/>
<polyline points="713.2,646.4 713.2,652 706.8,652 706.8,659.2 711.9,659.2 711.9,668 719.6,668 719.6,672 728.5,672"/>
<polyline points="824.3,647.7 824.3,652 828,652 828,659.2 823,659.2 823,668 815.4,668 815.4,672 807.7,672"/>
<path d="M767.6,725.5 Q771.5,727 770.3,730 Q768.8,732.6 765.5,732.2 Q762.5,731.6 762.5,729.5"/>
<line x1="778.3" y1="13.3" x2="778.1" y2="26.7" stroke-width="1.5"/>
<line x1="777.5" y1="63.6" x2="777.3" y2="76.6" stroke-width="1.1"/>
<line x1="775.5" y1="187.5" x2="775.5" y2="189" stroke-width="1.1"/>
<line x1="775.4" y1="193" x2="775.1" y2="212" stroke-width="1.1"/>
<line x1="774.8" y1="230" x2="774.6" y2="245.3" stroke-width="1.1"/>
<line x1="774.3" y1="258.7" x2="774" y2="281.3" stroke-width="1.1"/>
<line x1="773.9" y1="287.5" x2="773.9" y2="289" stroke-width="1.1"/>
<line x1="773.8" y1="294.7" x2="773.5" y2="309.6" stroke-width="1.1"/>
<line x1="773.2" y1="331.8" x2="772.9" y2="350.5" stroke-width="1.1"/>
<line x1="772.7" y1="362.5" x2="772.6" y2="364" stroke-width="1.1"/>
<line x1="772.5" y1="375.4" x2="772.2" y2="391.5" stroke-width="1.1"/>
<line x1="771.9" y1="407.5" x2="771.6" y2="428.8" stroke-width="1.1"/>
<line x1="771.3" y1="448" x2="771" y2="467" stroke-width="1.1"/>
<line x1="770.5" y1="497" x2="770.2" y2="519" stroke-width="1.1"/>
<line x1="769.8" y1="539" x2="769.4" y2="566" stroke-width="1.1"/>
<line x1="769.1" y1="584" x2="768.7" y2="607" stroke-width="1.1"/>
<line x1="767.4" y1="690.5" x2="767.2" y2="700.5" stroke-width="1.1"/>
<line x1="767.2" y1="705.4" x2="767.1" y2="707" stroke-width="1.1"/>
<line x1="767.1" y1="710.5" x2="766.8" y2="725.5" stroke-width="1.1"/>
<line x1="346.7" y1="295.7" x2="399" y2="295.7" stroke-width="1.0" stroke-dasharray="14,5,2,5"/>
<path d="M344,293.5 Q341,291.5 338,292.5 Q334.5,294 334.5,297 Q335,300.5 339,301 Q342.5,301 343.5,299 L343.5,297.5 L340.5,297.5" stroke-width="1.2"/>
<line x1="339" y1="455.5" x2="386" y2="455.5" stroke-width="1.0" stroke-dasharray="14,5,2,5"/>
<polyline points="324.5,461 330.8,447.5 337,461" stroke-width="1.3"/>
<line x1="327" y1="456" x2="334.5" y2="456" stroke-width="1.2"/>
<rect x="337.5" y="459.8" width="1.5" height="1.5" fill="#333"/>
<line x1="1232" y1="468.8" x2="1288" y2="468.8" stroke-width="1.0" stroke-dasharray="14,5,2,5"/>
<path d="M1289,462.5 L1289,475.5 M1289,462.5 L1296,462.5 Q1300,463 1300,466 Q1300,468.5 1296,469 L1289,469 M1296,469 Q1301.5,469.5 1301.5,472.5 Q1301,475.5 1296,475.5 L1289,475.5" stroke-width="1.3"/>
<line x1="1225.7" y1="308.4" x2="1238" y2="308.4"/>
<line x1="1245" y1="308.4" x2="1252" y2="308.4"/>
<line x1="1258" y1="308.4" x2="1270" y2="308.4"/>
<line x1="1275.8" y1="304" x2="1275.8" y2="312.7" stroke-width="1.3"/>
<line x1="1285.5" y1="304" x2="1285.5" y2="312.7" stroke-width="1.3"/>
<line x1="1275.8" y1="308.4" x2="1285.5" y2="308.4"/>
<line x1="1179.3" y1="104.5" x2="1179.3" y2="111" stroke-width="1.7"/>
<line x1="1179.3" y1="104.5" x2="1188" y2="104.6" stroke-width="1.3"/>
<line x1="1184.3" y1="105" x2="1184.3" y2="109.5" stroke-width="1.1"/>
<line x1="1188" y1="104.6" x2="1188" y2="109.5" stroke-width="1.3"/>
<line x1="1179.5" y1="116.7" x2="1179.5" y2="129.9" stroke-width="1.2"/>
<line x1="1179.5" y1="137.9" x2="1179.5" y2="152.5" stroke-width="1.2"/>
<line x1="1179.5" y1="156.8" x2="1179.5" y2="157.8" stroke-width="1.2"/>
<line x1="1179.5" y1="162" x2="1179.5" y2="173.3" stroke-width="1.2"/>
<line x1="1171.1" y1="672.9" x2="1171.1" y2="688"/>
<line x1="1171.1" y1="694.5" x2="1171.1" y2="696"/>
<line x1="1171.1" y1="700" x2="1171.1" y2="718.5"/>
<line x1="1171.1" y1="724" x2="1171.1" y2="726"/>
<line x1="1171.1" y1="730.5" x2="1171.1" y2="749.3"/>
<line x1="394.5" y1="344.2" x2="394.5" y2="317"/>
<line x1="390" y1="344.2" x2="390" y2="392.3"/>
<line x1="390" y1="344.2" x2="405.2" y2="344.2"/>
<line x1="390" y1="392.3" x2="405.2" y2="392.3"/>
<line x1="400.5" y1="345.7" x2="400.5" y2="390.8"/>
<line x1="403.3" y1="345.7" x2="403.3" y2="390.8" stroke-width="0.8"/>
<line x1="405.2" y1="345.7" x2="405.2" y2="390.8"/>
<line x1="399.3" y1="345.7" x2="401.7" y2="345.7" stroke-width="1.5"/>
<line x1="399.3" y1="390.8" x2="401.7" y2="390.8" stroke-width="1.5"/>
<line x1="404" y1="345.7" x2="406.4" y2="345.7" stroke-width="1.5"/>
<line x1="404" y1="390.8" x2="406.4" y2="390.8" stroke-width="1.5"/>
<line x1="393.9" y1="392.3" x2="393.9" y2="422.5"/>
<line x1="388.2" y1="422.5" x2="388.2" y2="469.6"/>
<line x1="388.2" y1="422.5" x2="403.3" y2="422.5"/>
<line x1="388.2" y1="469.6" x2="403.3" y2="469.6"/>
<line x1="398.3" y1="424" x2="398.3" y2="468.1"/>
<line x1="400.8" y1="424" x2="400.8" y2="468.1" stroke-width="0.8"/>
<line x1="403.3" y1="424" x2="403.3" y2="468.1"/>
<line x1="397.1" y1="424" x2="399.5" y2="424" stroke-width="1.5"/>
<line x1="397.1" y1="468.1" x2="399.5" y2="468.1" stroke-width="1.5"/>
<line x1="402.1" y1="424" x2="404.5" y2="424" stroke-width="1.5"/>
<line x1="402.1" y1="468.1" x2="404.5" y2="468.1" stroke-width="1.5"/>
<line x1="392" y1="469.6" x2="392" y2="499"/>
<line x1="387" y1="499" x2="387" y2="547"/>
<line x1="387" y1="499" x2="402" y2="499"/>
<line x1="387" y1="547" x2="402" y2="547"/>
<line x1="397" y1="500.5" x2="397" y2="545.5"/>
<line x1="399" y1="500.5" x2="399" y2="545.5" stroke-width="0.8"/>
<line x1="402" y1="500.5" x2="402" y2="545.5"/>
<line x1="395.8" y1="500.5" x2="398.2" y2="500.5" stroke-width="1.5"/>
<line x1="395.8" y1="545.5" x2="398.2" y2="545.5" stroke-width="1.5"/>
<line x1="400.8" y1="500.5" x2="403.2" y2="500.5" stroke-width="1.5"/>
<line x1="400.8" y1="545.5" x2="403.2" y2="545.5" stroke-width="1.5"/>
<line x1="391" y1="547" x2="391" y2="578"/>
<line x1="385" y1="578" x2="385" y2="626"/>
<line x1="385" y1="578" x2="401" y2="578"/>
<line x1="385" y1="626" x2="401" y2="626"/>
<line x1="396" y1="579.5" x2="396" y2="624.5"/>
<line x1="398" y1="579.5" x2="398" y2="624.5" stroke-width="0.8"/>
<line x1="401" y1="579.5" x2="401" y2="624.5"/>
<line x1="394.8" y1="579.5" x2="397.2" y2="579.5" stroke-width="1.5"/>
<line x1="394.8" y1="624.5" x2="397.2" y2="624.5" stroke-width="1.5"/>
<line x1="399.8" y1="579.5" x2="402.2" y2="579.5" stroke-width="1.5"/>
<line x1="399.8" y1="624.5" x2="402.2" y2="624.5" stroke-width="1.5"/>
<line x1="389" y1="626" x2="389" y2="655"/>
<line x1="389" y1="655" x2="417" y2="655"/>
<polyline points="406.3,330 405.5,500 402.3,642.5"/>
<polyline points="405.5,440.5 413.3,440.5 410.5,447.8 410.5,450 405.5,450"/>
<line x1="409" y1="450" x2="408.6" y2="520.5"/>
<polyline points="405,520.5 410,520.5 410,523 412.5,527.8 404.5,527.8"/>
<line x1="421.7" y1="440.5" x2="421.7" y2="455.5"/>
<line x1="421.7" y1="461" x2="421.7" y2="462.5"/>
<line x1="421.7" y1="465.5" x2="421.7" y2="474.5"/>
<line x1="421.7" y1="498.5" x2="421.7" y2="500"/>
<line x1="421.7" y1="503" x2="421.7" y2="525.5"/>
<rect x="420.7" y="440" width="2" height="2" fill="#333"/>
<rect x="420.7" y="524.5" width="2" height="2" fill="#333"/>
<line x1="419" y1="440.5" x2="424.5" y2="440.5" stroke-width="0.8"/>
<text x="416.5" y="509.4" font-size="5.5" font-family="Liberation Sans" text-anchor="start" fill="#333" stroke="none" transform="rotate(-90 416.5 509.4)" textLength="37.7" lengthAdjust="spacingAndGlyphs">SCREEN</text>
<text x="423" y="496.7" font-size="5.5" font-family="Liberation Sans" text-anchor="start" fill="#333" stroke="none" transform="rotate(-90 423 496.7)" textLength="16" lengthAdjust="spacingAndGlyphs">12'0"</text>
<text x="420" y="404" font-size="5.8" font-family="Liberation Sans" text-anchor="start" fill="#333" stroke="none" transform="rotate(-90 420 404)" textLength="36" lengthAdjust="spacingAndGlyphs">BOOKCASE</text>
<text x="419" y="601" font-size="5.8" font-family="Liberation Sans" text-anchor="start" fill="#333" stroke="none" transform="rotate(-90 419 601)" textLength="36" lengthAdjust="spacingAndGlyphs">BOOKCASE</text>
<line x1="408.4" y1="528" x2="407" y2="637"/>
<line x1="407" y1="637" x2="706.7" y2="641"/>
<line x1="401" y1="642.2" x2="713.3" y2="646.7"/>
<line x1="389" y1="655.5" x2="420.6" y2="655.9"/>
<line x1="418.8" y1="644" x2="462.3" y2="644.7"/>
<line x1="418.8" y1="646" x2="462.3" y2="646.7" stroke-width="0.8"/>
<line x1="418.8" y1="648.6" x2="462.3" y2="649.3"/>
<line x1="418.6" y1="641.6" x2="418.6" y2="650.1" stroke-width="1.3"/>
<line x1="420.6" y1="641.7" x2="420.6" y2="650.2" stroke-width="1.3"/>
<line x1="462.5" y1="642.3" x2="462.5" y2="650.8" stroke-width="1.3"/>
<line x1="460.5" y1="642.2" x2="460.5" y2="650.7" stroke-width="1.3"/>
<line x1="420.6" y1="650.1" x2="420.6" y2="655.9"/>
<line x1="460.5" y1="650.8" x2="460.5" y2="656.6"/>
<line x1="417.8" y1="655.6" x2="417.8" y2="659.1"/>
<line x1="464.3" y1="656.6" x2="464.3" y2="660.3"/>
<line x1="417.8" y1="659.1" x2="464.3" y2="659.8"/>
<line x1="460.5" y1="656.5" x2="499.5" y2="657.1"/>
<line x1="497.7" y1="645.2" x2="540.1" y2="645.8"/>
<line x1="497.7" y1="647.2" x2="540.1" y2="647.8" stroke-width="0.8"/>
<line x1="497.7" y1="649.8" x2="540.1" y2="650.4"/>
<line x1="497.5" y1="642.8" x2="497.5" y2="651.3" stroke-width="1.3"/>
<line x1="499.5" y1="642.8" x2="499.5" y2="651.3" stroke-width="1.3"/>
<line x1="540.3" y1="643.4" x2="540.3" y2="651.9" stroke-width="1.3"/>
<line x1="538.3" y1="643.4" x2="538.3" y2="651.9" stroke-width="1.3"/>
<line x1="499.5" y1="651.3" x2="499.5" y2="657.1"/>
<line x1="538.3" y1="651.9" x2="538.3" y2="657.7"/>
<line x1="496.7" y1="656.8" x2="496.7" y2="660.3"/>
<line x1="542.1" y1="657.7" x2="542.1" y2="661.4"/>
<line x1="496.7" y1="660.3" x2="542.1" y2="660.9"/>
<line x1="538.3" y1="657.7" x2="577.2" y2="658.2"/>
<line x1="575.4" y1="646.3" x2="617.9" y2="646.9"/>
<line x1="575.4" y1="648.3" x2="617.9" y2="648.9" stroke-width="0.8"/>
<line x1="575.4" y1="650.9" x2="617.9" y2="651.5"/>
<line x1="575.2" y1="643.9" x2="575.2" y2="652.4" stroke-width="1.3"/>
<line x1="577.2" y1="643.9" x2="577.2" y2="652.4" stroke-width="1.3"/>
<line x1="618.1" y1="644.5" x2="618.1" y2="653" stroke-width="1.3"/>
<line x1="616.1" y1="644.5" x2="616.1" y2="653" stroke-width="1.3"/>
<line x1="577.2" y1="652.4" x2="577.2" y2="658.2"/>
<line x1="616.1" y1="653" x2="616.1" y2="658.8"/>
<line x1="574.4" y1="657.9" x2="574.4" y2="661.4"/>
<line x1="619.9" y1="658.8" x2="619.9" y2="662.5"/>
<line x1="574.4" y1="661.4" x2="619.9" y2="662"/>
<line x1="616.1" y1="658.8" x2="652.8" y2="659.3"/>
<line x1="651" y1="647.4" x2="694.6" y2="648"/>
<line x1="651" y1="649.4" x2="694.6" y2="650" stroke-width="0.8"/>
<line x1="651" y1="652" x2="694.6" y2="652.6"/>
<line x1="650.8" y1="645" x2="650.8" y2="653.5" stroke-width="1.3"/>
<line x1="652.8" y1="645" x2="652.8" y2="653.5" stroke-width="1.3"/>
<line x1="694.8" y1="645.6" x2="694.8" y2="654.1" stroke-width="1.3"/>
<line x1="692.8" y1="645.6" x2="692.8" y2="654.1" stroke-width="1.3"/>
<line x1="652.8" y1="653.5" x2="652.8" y2="659.3"/>
<line x1="692.8" y1="654.1" x2="692.8" y2="659.9"/>
<line x1="650" y1="659" x2="650" y2="662.5"/>
<line x1="696.6" y1="659.9" x2="696.6" y2="663.6"/>
<line x1="650" y1="662.5" x2="696.6" y2="663.2"/>
<line x1="692.8" y1="659.9" x2="706.8" y2="660.1"/>
<text x="533" y="636.3" font-size="6" font-family="Liberation Sans" text-anchor="start" fill="#333" stroke="none" textLength="45" lengthAdjust="spacingAndGlyphs">BOOKCASE</text>
<line x1="706.7" y1="641" x2="706.7" y2="563"/>
<line x1="713.3" y1="646.7" x2="713.3" y2="652"/>
<line x1="836.3" y1="542" x2="836.3" y2="635"/>
<line x1="836.3" y1="635.5" x2="1200.6" y2="639.6"/>
<line x1="823" y1="648.8" x2="1212.4" y2="652.9"/>
<line x1="823" y1="536.6" x2="823" y2="649.5"/>
<line x1="828" y1="662.1" x2="843.3" y2="662.2"/>
<line x1="841.5" y1="650.3" x2="883" y2="650.8"/>
<line x1="841.5" y1="652.3" x2="883" y2="652.8" stroke-width="0.8"/>
<line x1="841.5" y1="654.9" x2="883" y2="655.4"/>
<line x1="841.3" y1="647.9" x2="841.3" y2="656.4" stroke-width="1.3"/>
<line x1="843.3" y1="648" x2="843.3" y2="656.5" stroke-width="1.3"/>
<line x1="883.2" y1="648.4" x2="883.2" y2="656.9" stroke-width="1.3"/>
<line x1="881.2" y1="648.4" x2="881.2" y2="656.9" stroke-width="1.3"/>
<line x1="843.3" y1="656.4" x2="843.3" y2="662.2"/>
<line x1="881.2" y1="656.9" x2="881.2" y2="662.7"/>
<line x1="840.5" y1="661.9" x2="840.5" y2="665.4"/>
<line x1="885" y1="662.7" x2="885" y2="666.4"/>
<line x1="840.5" y1="665.4" x2="885" y2="665.9"/>
<line x1="881.2" y1="662.7" x2="918.6" y2="663"/>
<line x1="916.8" y1="651.1" x2="960.7" y2="651.6"/>
<line x1="916.8" y1="653.1" x2="960.7" y2="653.6" stroke-width="0.8"/>
<line x1="916.8" y1="655.7" x2="960.7" y2="656.2"/>
<line x1="916.6" y1="648.7" x2="916.6" y2="657.2" stroke-width="1.3"/>
<line x1="918.6" y1="648.8" x2="918.6" y2="657.3" stroke-width="1.3"/>
<line x1="960.9" y1="649.2" x2="960.9" y2="657.7" stroke-width="1.3"/>
<line x1="958.9" y1="649.2" x2="958.9" y2="657.7" stroke-width="1.3"/>
<line x1="918.6" y1="657.2" x2="918.6" y2="663"/>
<line x1="958.9" y1="657.7" x2="958.9" y2="663.5"/>
<line x1="915.8" y1="662.7" x2="915.8" y2="666.2"/>
<line x1="962.7" y1="663.5" x2="962.7" y2="667.2"/>
<line x1="915.8" y1="666.2" x2="962.7" y2="666.7"/>
<line x1="958.9" y1="663.5" x2="997.3" y2="663.8"/>
<line x1="995.5" y1="651.9" x2="1039.5" y2="652.4"/>
<line x1="995.5" y1="653.9" x2="1039.5" y2="654.4" stroke-width="0.8"/>
<line x1="995.5" y1="656.5" x2="1039.5" y2="657"/>
<line x1="995.3" y1="649.6" x2="995.3" y2="658.1" stroke-width="1.3"/>
<line x1="997.3" y1="649.6" x2="997.3" y2="658.1" stroke-width="1.3"/>
<line x1="1039.7" y1="650" x2="1039.7" y2="658.5" stroke-width="1.3"/>
<line x1="1037.7" y1="650" x2="1037.7" y2="658.5" stroke-width="1.3"/>
<line x1="997.3" y1="658" x2="997.3" y2="663.8"/>
<line x1="1037.7" y1="658.5" x2="1037.7" y2="664.3"/>
<line x1="994.5" y1="663.5" x2="994.5" y2="667"/>
<line x1="1041.5" y1="664.3" x2="1041.5" y2="668"/>
<line x1="994.5" y1="667" x2="1041.5" y2="667.5"/>
<line x1="1037.7" y1="664.3" x2="1074.8" y2="664.7"/>
<line x1="1073" y1="652.8" x2="1117" y2="653.2"/>
<line x1="1073" y1="654.8" x2="1117" y2="655.2" stroke-width="0.8"/>
<line x1="1073" y1="657.4" x2="1117" y2="657.8"/>
<line x1="1072.8" y1="650.4" x2="1072.8" y2="658.9" stroke-width="1.3"/>
<line x1="1074.8" y1="650.4" x2="1074.8" y2="658.9" stroke-width="1.3"/>
<line x1="1117.2" y1="650.8" x2="1117.2" y2="659.3" stroke-width="1.3"/>
<line x1="1115.2" y1="650.8" x2="1115.2" y2="659.3" stroke-width="1.3"/>
<line x1="1074.8" y1="658.9" x2="1074.8" y2="664.7"/>
<line x1="1115.2" y1="659.3" x2="1115.2" y2="665.1"/>
<line x1="1072" y1="664.4" x2="1072" y2="667.9"/>
<line x1="1119" y1="665.1" x2="1119" y2="668.8"/>
<line x1="1072" y1="667.9" x2="1119" y2="668.4"/>
<line x1="1115.2" y1="665.1" x2="1152.2" y2="665.5"/>
<line x1="1150.4" y1="653.6" x2="1194.3" y2="654.1"/>
<line x1="1150.4" y1="655.6" x2="1194.3" y2="656.1" stroke-width="0.8"/>
<line x1="1150.4" y1="658.2" x2="1194.3" y2="658.7"/>
<line x1="1150.2" y1="651.2" x2="1150.2" y2="659.7" stroke-width="1.3"/>
<line x1="1152.2" y1="651.2" x2="1152.2" y2="659.7" stroke-width="1.3"/>
<line x1="1194.5" y1="651.6" x2="1194.5" y2="660.1" stroke-width="1.3"/>
<line x1="1192.5" y1="651.6" x2="1192.5" y2="660.1" stroke-width="1.3"/>
<line x1="1152.2" y1="659.7" x2="1152.2" y2="665.5"/>
<line x1="1192.5" y1="660.2" x2="1192.5" y2="666"/>
<line x1="1149.4" y1="665.2" x2="1149.4" y2="668.7"/>
<line x1="1196.3" y1="666" x2="1196.3" y2="669.7"/>
<line x1="1149.4" y1="668.7" x2="1196.3" y2="669.2"/>
<line x1="1192.5" y1="665.9" x2="1212.9" y2="666.1"/>
<text x="969.5" y="647" font-size="6.5" font-family="Liberation Sans" text-anchor="start" fill="#333" stroke="none" textLength="109.5" lengthAdjust="spacingAndGlyphs" letter-spacing="0.5">NEWSPAPER SLOPES</text>
<line x1="828" y1="652" x2="828" y2="660"/>
<line x1="1205" y1="346" x2="1205" y2="472"/>
<line x1="1202" y1="520" x2="1202" y2="640"/>
<line x1="1217" y1="340" x2="1214" y2="652"/>
<rect x="1198.5" y="472" width="16.5" height="48"/>
<text x="1211" y="511" font-size="6" font-family="Liberation Sans" text-anchor="start" fill="#333" stroke="none" transform="rotate(-90 1211 511)" textLength="30" lengthAdjust="spacingAndGlyphs">FILES</text>
<text x="1213" y="456" font-size="5.8" font-family="Liberation Sans" text-anchor="start" fill="#333" stroke="none" transform="rotate(-90 1213 456)" textLength="82" lengthAdjust="spacingAndGlyphs">NEWSPAPER SLOPES</text>
<text x="1211" y="620" font-size="5.8" font-family="Liberation Sans" text-anchor="start" fill="#333" stroke="none" transform="rotate(-90 1211 620)" textLength="92" lengthAdjust="spacingAndGlyphs">NEWSPAPER SLOPES</text>
<line x1="1232" y1="356" x2="1232" y2="404"/>
<line x1="1218" y1="356" x2="1232" y2="356"/>
<line x1="1218" y1="404" x2="1232" y2="404"/>
<line x1="1218" y1="357.5" x2="1218" y2="402.5"/>
<line x1="1220" y1="357.5" x2="1220" y2="402.5" stroke-width="0.8"/>
<line x1="1222" y1="357.5" x2="1222" y2="402.5"/>
<line x1="1216.8" y1="357.5" x2="1219.2" y2="357.5" stroke-width="1.5"/>
<line x1="1216.8" y1="402.5" x2="1219.2" y2="402.5" stroke-width="1.5"/>
<line x1="1220.8" y1="357.5" x2="1223.2" y2="357.5" stroke-width="1.5"/>
<line x1="1220.8" y1="402.5" x2="1223.2" y2="402.5" stroke-width="1.5"/>
<line x1="1231" y1="434" x2="1231" y2="482"/>
<line x1="1217.5" y1="434" x2="1231" y2="434"/>
<line x1="1217.5" y1="482" x2="1231" y2="482"/>
<line x1="1217.5" y1="435.5" x2="1217.5" y2="480.5"/>
<line x1="1219.5" y1="435.5" x2="1219.5" y2="480.5" stroke-width="0.8"/>
<line x1="1221.5" y1="435.5" x2="1221.5" y2="480.5"/>
<line x1="1216.3" y1="435.5" x2="1218.7" y2="435.5" stroke-width="1.5"/>
<line x1="1216.3" y1="480.5" x2="1218.7" y2="480.5" stroke-width="1.5"/>
<line x1="1220.3" y1="435.5" x2="1222.7" y2="435.5" stroke-width="1.5"/>
<line x1="1220.3" y1="480.5" x2="1222.7" y2="480.5" stroke-width="1.5"/>
<line x1="1230" y1="512" x2="1230" y2="560"/>
<line x1="1217" y1="512" x2="1230" y2="512"/>
<line x1="1217" y1="560" x2="1230" y2="560"/>
<line x1="1217" y1="513.5" x2="1217" y2="558.5"/>
<line x1="1219" y1="513.5" x2="1219" y2="558.5" stroke-width="0.8"/>
<line x1="1221" y1="513.5" x2="1221" y2="558.5"/>
<line x1="1215.8" y1="513.5" x2="1218.2" y2="513.5" stroke-width="1.5"/>
<line x1="1215.8" y1="558.5" x2="1218.2" y2="558.5" stroke-width="1.5"/>
<line x1="1219.8" y1="513.5" x2="1222.2" y2="513.5" stroke-width="1.5"/>
<line x1="1219.8" y1="558.5" x2="1222.2" y2="558.5" stroke-width="1.5"/>
<line x1="1228" y1="588" x2="1228" y2="636"/>
<line x1="1216.5" y1="588" x2="1228" y2="588"/>
<line x1="1216.5" y1="636" x2="1228" y2="636"/>
<line x1="1216.5" y1="589.5" x2="1216.5" y2="634.5"/>
<line x1="1218.5" y1="589.5" x2="1218.5" y2="634.5" stroke-width="0.8"/>
<line x1="1220.5" y1="589.5" x2="1220.5" y2="634.5"/>
<line x1="1215.3" y1="589.5" x2="1217.7" y2="589.5" stroke-width="1.5"/>
<line x1="1215.3" y1="634.5" x2="1217.7" y2="634.5" stroke-width="1.5"/>
<line x1="1219.3" y1="589.5" x2="1221.7" y2="589.5" stroke-width="1.5"/>
<line x1="1219.3" y1="634.5" x2="1221.7" y2="634.5" stroke-width="1.5"/>
<line x1="1229" y1="329.3" x2="1229" y2="356"/>
<line x1="1227" y1="404" x2="1227" y2="434"/>
<line x1="1226" y1="482" x2="1226" y2="512"/>
<line x1="1225" y1="560" x2="1225" y2="588"/>
<line x1="1223.6" y1="636" x2="1223.6" y2="666.7"/>
<line x1="1196.9" y1="666.7" x2="1223.6" y2="666.7"/>
<line x1="830" y1="352" x2="839.5" y2="360.5"/>
<line x1="810" y1="344" x2="821" y2="364.5"/>
<polygon points="821,364 833.5,355 839.5,360.5 828,371.5"/>
<line x1="824" y1="367" x2="836" y2="358" stroke-width="0.8"/>
<line x1="826" y1="369.5" x2="838" y2="360.5" stroke-width="0.8"/>
<line x1="819.5" y1="370" x2="819.5" y2="379.5"/>
<line x1="828" y1="371.5" x2="828" y2="379.5"/>
<line x1="818.5" y1="381.5" x2="857" y2="382"/>
<line x1="828" y1="380" x2="850" y2="380"/>
<line x1="839" y1="379" x2="839" y2="392"/>
<polyline points="857,382 873.5,365 873.5,327.5 864,327"/>
<line x1="864" y1="327" x2="847" y2="343"/>
<polygon points="847,343 859,331.5 863,335.5 851,348"/>
<polyline points="850,382 850,370 862,359.5 870.5,360 870.5,337 864,336.5 852,348"/>
<text x="836" y="376" font-size="6.5" font-family="Liberation Sans" text-anchor="start" fill="#333" stroke="none" transform="rotate(-44 836 376)" textLength="45" lengthAdjust="spacingAndGlyphs">ATTENDANT</text>
<line x1="863" y1="317.2" x2="1017.8" y2="317.5"/>
<polyline points="1017.8,317.5 1017.8,315.6 1023.3,315.6 1023.3,327.3"/>
<line x1="1020.5" y1="315.6" x2="1020.5" y2="327"/>
<line x1="863" y1="317.2" x2="863" y2="327.3"/>
<line x1="863" y1="327.3" x2="1023.3" y2="327.5"/>
<line x1="873.5" y1="330.5" x2="1017" y2="330.8" stroke-width="0.8"/>
<line x1="873.5" y1="333" x2="1017" y2="333.2" stroke-width="0.8"/>
<line x1="873.5" y1="335.2" x2="1017" y2="335.4"/>
<line x1="902.2" y1="327.3" x2="902.2" y2="337.5"/>
<line x1="912.3" y1="327.3" x2="912.3" y2="337.5"/>
<line x1="979.5" y1="327.3" x2="979.5" y2="337.5"/>
<line x1="989" y1="327.3" x2="989" y2="337.5"/>
<line x1="902.2" y1="317.2" x2="902.2" y2="327.3"/>
<line x1="872.5" y1="337.5" x2="1028" y2="337.8"/>
<line x1="873.3" y1="346.1" x2="1024" y2="346.1"/>
<line x1="1024" y1="337.5" x2="1024" y2="346.1"/>
<line x1="1028" y1="327.5" x2="1028" y2="340"/>
<line x1="1023.3" y1="327.5" x2="1028" y2="327.5"/>
<text x="864.5" y="324.8" font-size="5" font-family="Liberation Sans" text-anchor="start" fill="#333" stroke="none" textLength="36" lengthAdjust="spacingAndGlyphs">CATALOGUES</text>
<text x="921" y="325" font-size="5" font-family="Liberation Sans" text-anchor="start" fill="#333" stroke="none" textLength="68.7" lengthAdjust="spacingAndGlyphs" letter-spacing="1">MOVABLE BOOKCASE</text>
<text x="913.9" y="357" font-size="7" font-family="Liberation Sans" text-anchor="start" fill="#333" stroke="none" textLength="62.5" lengthAdjust="spacingAndGlyphs">14 BOOKCASE</text>
<line x1="1024" y1="346.1" x2="1204.5" y2="346.2"/>
<text x="1097" y="357.5" font-size="7" font-family="Liberation Sans" text-anchor="start" fill="#333" stroke="none" textLength="57.6" lengthAdjust="spacingAndGlyphs">10 BOOKCASE</text>
<line x1="1019" y1="176.5" x2="1226.7" y2="177"/>
<line x1="1226.2" y1="177" x2="1223.4" y2="329.3"/>
<line x1="1221.3" y1="329.3" x2="1229" y2="329.3"/>
<line x1="1229" y1="329.3" x2="1229" y2="356"/>
<line x1="1026.9" y1="175.5" x2="1026.9" y2="186.5"/>
<line x1="1046.8" y1="175.5" x2="1046.8" y2="186.5"/>
<line x1="1025.4" y1="181.9" x2="1048.2" y2="181.9"/>
<line x1="1027.9" y1="180.5" x2="1027.9" y2="183.5" stroke-width="1.6"/>
<line x1="1045.8" y1="180.5" x2="1045.8" y2="183.5" stroke-width="1.6"/>
<line x1="1086.5" y1="175.5" x2="1086.5" y2="186.5"/>
<line x1="1118" y1="175.5" x2="1118" y2="186.5"/>
<line x1="1085" y1="181.9" x2="1119.5" y2="181.9"/>
<line x1="1087.5" y1="180.5" x2="1087.5" y2="183.5" stroke-width="1.6"/>
<line x1="1117" y1="180.5" x2="1117" y2="183.5" stroke-width="1.6"/>
<line x1="1164.4" y1="175.5" x2="1164.4" y2="186.5"/>
<line x1="1195.6" y1="175.5" x2="1195.6" y2="186.5"/>
<line x1="1162.9" y1="181.9" x2="1197.1" y2="181.9"/>
<line x1="1165.4" y1="180.5" x2="1165.4" y2="183.5" stroke-width="1.6"/>
<line x1="1194.6" y1="180.5" x2="1194.6" y2="183.5" stroke-width="1.6"/>
<line x1="1024.6" y1="181.6" x2="1024.6" y2="200"/>
<line x1="1020" y1="191.5" x2="1020" y2="200"/>
<line x1="1020" y1="200" x2="1024.6" y2="200"/>
<line x1="1024.6" y1="186" x2="1217" y2="186.7"/>
<line x1="1052" y1="191.8" x2="1085" y2="191.8"/>
<line x1="1085" y1="183" x2="1085" y2="192"/>
<line x1="1058.2" y1="192.5" x2="1209" y2="192.8" stroke-width="0.9"/>
<line x1="1058.2" y1="198" x2="1209" y2="198.3"/>
<rect x="1120" y="186.4" width="43.3" height="11.5"/>
<text x="1127" y="195.5" font-size="6.5" font-family="Liberation Sans" text-anchor="start" fill="#333" stroke="none" textLength="26" lengthAdjust="spacingAndGlyphs">PRESS</text>
<line x1="1052.2" y1="186.2" x2="1052.2" y2="294.4"/>
<line x1="1058.2" y1="186.2" x2="1058.2" y2="294.4"/>
<line x1="1052.2" y1="294.4" x2="1058.2" y2="294.4"/>
<line x1="1052" y1="210" x2="1061" y2="210"/>
<line x1="1052" y1="230" x2="1061" y2="230"/>
<line x1="1052" y1="250" x2="1061" y2="250"/>
<line x1="1052" y1="271" x2="1061" y2="271"/>
<line x1="1210" y1="189" x2="1207.7" y2="331.3"/>
<line x1="1216.5" y1="188" x2="1214.3" y2="332"/>
<line x1="1206" y1="239" x2="1212" y2="239"/>
<line x1="1206" y1="259" x2="1212" y2="259"/>
<line x1="1206" y1="281" x2="1212" y2="281"/>
<line x1="1206" y1="313" x2="1212" y2="313"/>
<line x1="1217.7" y1="204.4" x2="1217.2" y2="240.5"/>
<line x1="1220.7" y1="205.4" x2="1220.2" y2="239.5" stroke-width="0.8"/>
<line x1="1215.2" y1="204.4" x2="1225.2" y2="204.4"/>
<line x1="1214.7" y1="240.5" x2="1224.7" y2="240.5"/>
<line x1="1216.5" y1="279.5" x2="1215.9" y2="315.6"/>
<line x1="1219.5" y1="280.5" x2="1218.9" y2="314.6" stroke-width="0.8"/>
<line x1="1214" y1="279.5" x2="1224" y2="279.5"/>
<line x1="1213.4" y1="315.6" x2="1223.4" y2="315.6"/>
<text x="1094.4" y="207.5" font-size="5" font-family="Liberation Sans" text-anchor="start" fill="#333" stroke="none" textLength="112" lengthAdjust="spacingAndGlyphs" letter-spacing="1">18 BOOKCASE BELOW FLOOR</text>
<text x="1064" y="209" font-size="5.5" font-family="Liberation Sans" text-anchor="start" fill="#333" stroke="none">10</text>
<text x="1063" y="226" font-size="5.5" font-family="Liberation Sans" text-anchor="start" fill="#333" stroke="none">10</text>
<text x="1196" y="231" font-size="5.5" font-family="Liberation Sans" text-anchor="start" fill="#333" stroke="none">10</text>
<text x="1090" y="264.5" font-family="Liberation Sans" fill="#333" stroke="none" textLength="82" lengthAdjust="spacingAndGlyphs"><tspan font-size="15.3">W</tspan><tspan font-size="12">ORK</tspan><tspan font-size="12"> </tspan><tspan font-size="15.3">R</tspan><tspan font-size="12">OOM</tspan></text>
<line x1="1012.2" y1="220" x2="1012.2" y2="294.4"/>
<line x1="1018.9" y1="220" x2="1018.9" y2="294.4"/>
<line x1="1023.3" y1="220" x2="1023.3" y2="294.4"/>
<line x1="1047.8" y1="220" x2="1047.8" y2="294.4"/>
<line x1="1012.2" y1="220" x2="1018.9" y2="220"/>
<line x1="1012.2" y1="294.4" x2="1018.9" y2="294.4"/>
<line x1="1023.3" y1="223.3" x2="1047.8" y2="223.3"/>
<line x1="1023.3" y1="229.2" x2="1047.8" y2="229.2"/>
<line x1="1023.3" y1="235" x2="1047.8" y2="235"/>
<line x1="1023.3" y1="240.9" x2="1047.8" y2="240.9"/>
<line x1="1023.3" y1="246.7" x2="1047.8" y2="246.7"/>
<line x1="1023.3" y1="272.5" x2="1047.8" y2="272.5"/>
<line x1="1023.3" y1="277.4" x2="1047.8" y2="277.4"/>
<line x1="1023.3" y1="282.3" x2="1047.8" y2="282.3"/>
<line x1="1023.3" y1="287.2" x2="1047.8" y2="287.2"/>
<line x1="1023.3" y1="292.1" x2="1047.8" y2="292.1"/>
<line x1="1026" y1="252.5" x2="1031" y2="252.5"/>
<line x1="1035" y1="252.5" x2="1041" y2="252.5"/>
<line x1="1026" y1="267.5" x2="1031" y2="267.5"/>
<line x1="1035" y1="267.5" x2="1041" y2="267.5"/>
<line x1="1035" y1="226" x2="1035" y2="243"/>
<polyline points="1033,239 1035,243 1037,239"/>
<line x1="1034" y1="279" x2="1034" y2="292"/>
<polyline points="1032,283 1034,279 1036,283"/>
<text x="1029" y="221" font-size="4.5" font-family="Liberation Sans" text-anchor="start" fill="#333" stroke="none" textLength="17" lengthAdjust="spacingAndGlyphs">DOWN</text>
<text x="1029" y="301" font-size="5" font-family="Liberation Sans" text-anchor="start" fill="#333" stroke="none" textLength="10" lengthAdjust="spacingAndGlyphs">UP</text>
<line x1="1047.8" y1="220" x2="1052.2" y2="220"/>
<polyline points="1046.7,337.8 1046.7,317.8 1077,317.8 1077,324.4 1084.4,324.4 1084.4,337.8"/>
<line x1="1046.7" y1="337.8" x2="1084.4" y2="337.8"/>
<rect x="1051" y="323.3" width="7.9" height="6.7"/>
<rect x="1060" y="323.3" width="7.8" height="6.7"/>
<line x1="1049" y1="344.4" x2="1204.3" y2="346"/>
<line x1="1204.3" y1="346" x2="1217.3" y2="346"/>
<rect x="1115.6" y="324.4" width="46.6" height="20"/>
<line x1="1115.6" y1="331.1" x2="1162.2" y2="331.1"/>
<line x1="1132" y1="322" x2="1132" y2="333"/>
<line x1="1146.5" y1="322" x2="1146.5" y2="333"/>
<polyline points="1192.7,346 1192.7,325.3 1214,325.3 1214,332"/>
<line x1="1192.7" y1="331.3" x2="1214" y2="331.3"/>
<line x1="1190.7" y1="340.7" x2="1217.3" y2="340.7"/>
<line x1="1217.3" y1="339" x2="1217.3" y2="360"/>
<line x1="1205" y1="315.3" x2="1214.3" y2="315.3"/>
<line x1="1213.5" y1="313.7" x2="1224" y2="313.7"/>
<text x="1077.8" y="320" font-size="5" font-family="Liberation Sans" text-anchor="start" fill="#333" stroke="none">10</text>
<text x="1130" y="322" font-size="5" font-family="Liberation Sans" text-anchor="start" fill="#333" stroke="none">10</text>
<text x="1195.6" y="322" font-size="5" font-family="Liberation Sans" text-anchor="start" fill="#333" stroke="none">10</text>
<line x1="1084.4" y1="337.8" x2="1084.4" y2="344.4"/>
<line x1="428.6" y1="767" x2="1127.6" y2="776.6" stroke-width="2.2" stroke="#555"/>
<line x1="428.6" y1="777.4" x2="1127.6" y2="787" stroke-width="2.8" stroke="#555"/>
<line x1="428.6" y1="768.6" x2="1127.6" y2="778.2" stroke-width="0.6" stroke="#777"/>
<line x1="428.6" y1="775.8" x2="1127.6" y2="785.4" stroke-width="0.6" stroke="#777"/>
<line x1="436.3" y1="769.1" x2="436.3" y2="777.1" stroke-width="1.1"/>
<line x1="444" y1="769.2" x2="444" y2="777.2" stroke-width="1.1"/>
<line x1="451.7" y1="769.3" x2="451.7" y2="777.3" stroke-width="1.1"/>
<line x1="459.4" y1="769.4" x2="459.4" y2="777.4" stroke-width="1.1"/>
<line x1="467.1" y1="769.5" x2="467.1" y2="777.5" stroke-width="1.1"/>
<line x1="474.8" y1="769.6" x2="474.8" y2="777.6" stroke-width="1.1"/>
<line x1="482.5" y1="769.7" x2="482.5" y2="777.7" stroke-width="1.1"/>
<line x1="490.2" y1="769.9" x2="490.2" y2="777.9" stroke-width="1.1"/>
<line x1="497.9" y1="770" x2="497.9" y2="778" stroke-width="1.1"/>
<line x1="428.6" y1="762" x2="428.6" y2="782" stroke-width="1.2"/>
<text x="430.1" y="762" font-size="7.5" font-family="Liberation Sans" text-anchor="start" fill="#333" stroke="none" font-style="italic">10</text>
<line x1="467.1" y1="762.5" x2="467.1" y2="782.5" stroke-width="1.2"/>
<text x="468.6" y="762.5" font-size="7.5" font-family="Liberation Sans" text-anchor="start" fill="#333" stroke="none" font-style="italic">5</text>
<line x1="505.6" y1="763.1" x2="505.6" y2="783.1" stroke-width="1.2"/>
<text x="507.1" y="763.1" font-size="7.5" font-family="Liberation Sans" text-anchor="start" fill="#333" stroke="none" font-style="italic">0</text>
<line x1="583.4" y1="764.1" x2="583.4" y2="784.1" stroke-width="1.2"/>
<text x="584.9" y="764.1" font-size="7.5" font-family="Liberation Sans" text-anchor="start" fill="#333" stroke="none" font-style="italic">10</text>
<line x1="661.1" y1="765.2" x2="661.1" y2="785.2" stroke-width="1.2"/>
<text x="662.6" y="765.2" font-size="7.5" font-family="Liberation Sans" text-anchor="start" fill="#333" stroke="none" font-style="italic">20</text>
<line x1="738.8" y1="766.3" x2="738.8" y2="786.3" stroke-width="1.2"/>
<text x="740.3" y="766.3" font-size="7.5" font-family="Liberation Sans" text-anchor="start" fill="#333" stroke="none" font-style="italic">30</text>
<line x1="816.6" y1="767.4" x2="816.6" y2="787.4" stroke-width="1.2"/>
<text x="818.1" y="767.4" font-size="7.5" font-family="Liberation Sans" text-anchor="start" fill="#333" stroke="none" font-style="italic">40</text>
<line x1="894.3" y1="768.4" x2="894.3" y2="788.4" stroke-width="1.2"/>
<text x="895.8" y="768.4" font-size="7.5" font-family="Liberation Sans" text-anchor="start" fill="#333" stroke="none" font-style="italic">50</text>
<line x1="972.1" y1="769.5" x2="972.1" y2="789.5" stroke-width="1.2"/>
<text x="973.6" y="769.5" font-size="7.5" font-family="Liberation Sans" text-anchor="start" fill="#333" stroke="none" font-style="italic">60</text>
<line x1="1049.8" y1="770.6" x2="1049.8" y2="790.6" stroke-width="1.2"/>
<text x="1051.3" y="770.6" font-size="7.5" font-family="Liberation Sans" text-anchor="start" fill="#333" stroke="none" font-style="italic">70</text>
<line x1="1127.6" y1="771.6" x2="1127.6" y2="791.6" stroke-width="1.2"/>
<text x="1129.1" y="771.6" font-size="7.5" font-family="Liberation Sans" text-anchor="start" fill="#333" stroke="none" font-style="italic">80</text>
<text x="357.9" y="776.5" font-size="8.5" font-family="Liberation Sans" text-anchor="start" fill="#333" stroke="none" textLength="51" lengthAdjust="spacingAndGlyphs">SCALE OF</text>
<line x1="405" y1="779" x2="405" y2="784" stroke-width="0.8"/>
<rect x="410.5" y="761.5" width="1" height="1" fill="#333"/>
<text x="1138" y="789" font-size="8.5" font-family="Liberation Sans" text-anchor="start" fill="#333" stroke="none" textLength="25" lengthAdjust="spacingAndGlyphs">FEET.</text>
<text x="469" y="835.8" font-size="20.5" font-family="Liberation Serif" text-anchor="start" fill="#1e1e1e" stroke="#1e1e1e" textLength="135" lengthAdjust="spacingAndGlyphs" stroke-width="0.25">SHETTLESTON</text>
<text x="615" y="836.3" font-size="20.5" font-family="Liberation Serif" text-anchor="start" fill="#1e1e1e" stroke="#1e1e1e" textLength="39.6" lengthAdjust="spacingAndGlyphs" stroke-width="0.25">AND</text>
<text x="667" y="836.5" font-size="20.5" font-family="Liberation Serif" text-anchor="start" fill="#1e1e1e" stroke="#1e1e1e" textLength="107" lengthAdjust="spacingAndGlyphs" stroke-width="0.25">TOLLCROSS</text>
<text x="786.3" y="836.9" font-size="20.5" font-family="Liberation Serif" text-anchor="start" fill="#1e1e1e" stroke="#1e1e1e" textLength="89.1" lengthAdjust="spacingAndGlyphs" stroke-width="0.25">DISTRICT</text>
<text x="886.6" y="837.2" font-size="20.5" font-family="Liberation Serif" text-anchor="start" fill="#1e1e1e" stroke="#1e1e1e" textLength="78.8" lengthAdjust="spacingAndGlyphs" stroke-width="0.25">LIBRARY</text>
<text x="971.5" y="837.5" font-size="20.5" font-family="Liberation Serif" text-anchor="start" fill="#1e1e1e" stroke="#1e1e1e" textLength="4.5" lengthAdjust="spacingAndGlyphs" stroke-width="0.25">:</text>
<text x="990" y="837.6" font-size="20.5" font-family="Liberation Serif" text-anchor="start" fill="#1e1e1e" stroke="#1e1e1e" textLength="80" lengthAdjust="spacingAndGlyphs" stroke-width="0.25">GROUND</text>
<text x="1082" y="837.9" font-size="20.5" font-family="Liberation Serif" text-anchor="start" fill="#1e1e1e" stroke="#1e1e1e" textLength="61" lengthAdjust="spacingAndGlyphs" stroke-width="0.25">FLOOR</text>
<text x="129.4" y="413" font-size="24" font-family="Liberation Serif" text-anchor="middle" fill="#1a1a1a" stroke="#1a1a1a" transform="rotate(90 129.4 413)" textLength="20" lengthAdjust="spacingAndGlyphs" dominant-baseline="central" stroke-width="0.45">40</text>
<rect x="90" y="884" width="330" height="16" fill="#faf6d2" fill-opacity="0.28" stroke="none"/>
<rect x="440" y="888" width="200" height="12" fill="#faf6d2" fill-opacity="0.16" stroke="none"/>
<rect x="690" y="889" width="90" height="11" fill="#faf6d2" fill-opacity="0.14" stroke="none"/>
<rect x="820" y="889" width="180" height="11" fill="#faf6d2" fill-opacity="0.14" stroke="none"/>
<rect x="1280" y="890" width="230" height="10" fill="#faf6d2" fill-opacity="0.16" stroke="none"/>
</g>
</svg>
</body></html>
